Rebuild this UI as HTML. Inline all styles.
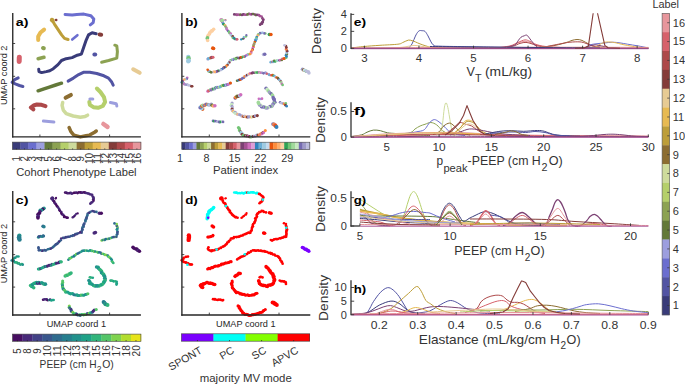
<!DOCTYPE html>
<html><head><meta charset="utf-8"><style>
html,body{margin:0;padding:0;background:#fff;width:685px;height:384px;overflow:hidden}
svg{display:block}
text{font-family:"Liberation Sans",sans-serif}
</style></head><body>
<svg width="685" height="384" viewBox="0 0 685 384">
<path d="M65.10,14.40 L72.20,15.00 L76.80,14.40 L83.90,14.10 L90.90,15.80 L93.80,19.10 L93.20,22.60 L90.30,24.90" fill="none" stroke="#6b6ecf" stroke-width="3.0" stroke-linecap="round" stroke-linejoin="round"/>
<path d="M52.20,20.20 L54.60,24.30 L58.10,29.60 L61.60,34.90 L64.50,38.40 L68.10,39.50" fill="none" stroke="#bd9e39" stroke-width="3.0" stroke-linecap="round" stroke-linejoin="round"/>
<path d="M44.10,29.60 L40.50,32.50 L38.20,36.60 L38.20,40.10" fill="none" stroke="#e7ba52" stroke-width="4.0" stroke-linecap="round" stroke-linejoin="round"/>
<path d="M72.20,39.50 L77.40,35.20" fill="none" stroke="#6b6ecf" stroke-width="2.6" stroke-linecap="round" stroke-linejoin="round"/>
<path d="M96.20,33.70 L92.10,32.80 L88.50,34.90 L86.20,40.10 L83.80,47.00 L81.40,54.10 L77.30,55.20 L72.10,57.60 L66.20,58.70 L61.50,60.50 L58.00,64.60 L53.30,68.70 L49.80,70.70 L46.30,71.60 L41.60,72.60 L39.00,71.60 L38.70,69.30" fill="none" stroke="#393b79" stroke-width="3.0" stroke-linecap="round" stroke-linejoin="round"/>
<path d="M99.60,34.60 L101.20,34.80" fill="none" stroke="#843c39" stroke-width="4.0" stroke-linecap="round" stroke-linejoin="round"/>
<path d="M43.00,48.00 L43.80,48.20" fill="none" stroke="#8ca252" stroke-width="4.0" stroke-linecap="round" stroke-linejoin="round"/>
<path d="M38.10,58.70 L44.00,57.30" fill="none" stroke="#8ca252" stroke-width="3.5" stroke-linecap="round" stroke-linejoin="round"/>
<path d="M19.30,57.20 L19.20,61.40" fill="none" stroke="#d6616b" stroke-width="5.0" stroke-linecap="round" stroke-linejoin="round"/>
<path d="M18.20,77.90 L14.70,79.70 L12.10,82.30 L15.30,83.80 L19.40,85.50 L22.90,86.50" fill="none" stroke="#5254a3" stroke-width="3.0" stroke-linecap="round" stroke-linejoin="round"/>
<path d="M68.10,81.10 L73.40,78.10 L78.70,74.60 L83.40,72.30 L89.80,72.30 L96.80,73.50 L103.90,75.80 L108.50,78.10 L111.50,81.70 L113.20,85.20" fill="none" stroke="#5254a3" stroke-width="3.0" stroke-linecap="round" stroke-linejoin="round"/>
<path d="M94.40,54.60 L95.20,54.60" fill="none" stroke="#5254a3" stroke-width="4.0" stroke-linecap="round" stroke-linejoin="round"/>
<path d="M101.60,62.20 L108.60,60.50 L116.80,58.10 L117.40,51.70 L116.80,45.90 L114.80,45.20" fill="none" stroke="#8ca252" stroke-width="3.0" stroke-linecap="round" stroke-linejoin="round"/>
<path d="M133.20,69.30 L139.70,72.80" fill="none" stroke="#e7cb94" stroke-width="4.0" stroke-linecap="round" stroke-linejoin="round"/>
<path d="M38.10,90.80 L44.00,88.80 L48.60,87.30 L55.70,85.00 L61.50,83.20" fill="none" stroke="#637939" stroke-width="3.5" stroke-linecap="round" stroke-linejoin="round"/>
<path d="M33.40,109.40 L30.80,107.50 L33.50,105.50 L36.90,104.50 L41.50,104.80 L45.50,106.20" fill="none" stroke="#ad494a" stroke-width="4.0" stroke-linecap="round" stroke-linejoin="round"/>
<path d="M65.60,97.80 L70.90,94.90" fill="none" stroke="#8c6d31" stroke-width="4.0" stroke-linecap="round" stroke-linejoin="round"/>
<path d="M62.70,102.50 L62.10,105.40 L63.30,110.10 L66.20,113.60 L73.20,116.00 L80.30,117.20 L85.20,116.40 L87.60,115.20" fill="none" stroke="#cedb9c" stroke-width="3.5" stroke-linecap="round" stroke-linejoin="round"/>
<path d="M96.90,88.50 L100.40,92.00 L104.00,97.20 L105.10,101.90 L102.80,106.00 L98.10,107.80 L93.40,107.20 L89.90,104.90 L89.30,101.90" fill="none" stroke="#b5cf6b" stroke-width="4.0" stroke-linecap="round" stroke-linejoin="round"/>
<path d="M89.90,99.00 L92.80,99.00" fill="none" stroke="#9c9ede" stroke-width="3.0" stroke-linecap="round" stroke-linejoin="round"/>
<path d="M110.40,102.50 L116.30,103.70 L116.80,106.00" fill="none" stroke="#9c9ede" stroke-width="3.0" stroke-linecap="round" stroke-linejoin="round"/>
<path d="M43.40,121.10 L53.90,122.00" fill="none" stroke="#9c9ede" stroke-width="3.0" stroke-linecap="round" stroke-linejoin="round"/>
<path d="M69.10,127.50 L70.90,131.60 L73.80,135.10 L80.30,136.90 L86.10,135.70 L89.60,135.10 L94.60,132.20 L96.30,131.00" fill="none" stroke="#8c6d31" stroke-width="3.5" stroke-linecap="round" stroke-linejoin="round"/>
<path d="M103.40,124.00 L107.50,126.90" fill="none" stroke="#e7969c" stroke-width="4.5" stroke-linecap="round" stroke-linejoin="round"/>
<path d="M56.00,20.00 L56.30,20.00" fill="none" stroke="#843c39" stroke-width="2.4" stroke-linecap="round" stroke-linejoin="round"/>
<path d="M52.00,20.00 L52.50,20.30" fill="none" stroke="#bd9e39" stroke-width="4.4" stroke-linecap="round" stroke-linejoin="round"/>
<circle cx="234.26" cy="14.44" r="1.32" fill="#7b4173"/>
<circle cx="236.06" cy="14.48" r="1.32" fill="#7b4173"/>
<circle cx="236.96" cy="14.97" r="1.32" fill="#a55194"/>
<circle cx="237.83" cy="14.46" r="1.32" fill="#a55194"/>
<circle cx="239.27" cy="14.84" r="1.32" fill="#a55194"/>
<circle cx="240.54" cy="14.59" r="1.32" fill="#637939"/>
<circle cx="241.93" cy="15.02" r="1.32" fill="#7b4173"/>
<circle cx="242.90" cy="14.46" r="1.32" fill="#7b4173"/>
<circle cx="243.72" cy="14.28" r="1.32" fill="#7b4173"/>
<circle cx="245.03" cy="14.75" r="1.32" fill="#a55194"/>
<circle cx="246.39" cy="14.78" r="1.32" fill="#a55194"/>
<circle cx="247.59" cy="14.42" r="1.32" fill="#637939"/>
<circle cx="248.91" cy="13.94" r="1.32" fill="#637939"/>
<circle cx="249.75" cy="14.03" r="1.32" fill="#a55194"/>
<circle cx="251.18" cy="14.52" r="1.32" fill="#a55194"/>
<circle cx="252.12" cy="14.05" r="1.32" fill="#7b4173"/>
<circle cx="253.33" cy="14.02" r="1.32" fill="#637939"/>
<circle cx="254.83" cy="14.55" r="1.32" fill="#7b4173"/>
<circle cx="255.95" cy="15.11" r="1.32" fill="#637939"/>
<circle cx="256.98" cy="14.79" r="1.32" fill="#7b4173"/>
<circle cx="258.16" cy="14.97" r="1.32" fill="#7b4173"/>
<circle cx="258.94" cy="15.12" r="1.32" fill="#a55194"/>
<circle cx="259.93" cy="16.07" r="1.32" fill="#a55194"/>
<circle cx="261.62" cy="16.47" r="1.32" fill="#a55194"/>
<circle cx="262.48" cy="18.34" r="1.32" fill="#7b4173"/>
<circle cx="263.29" cy="19.34" r="1.32" fill="#a55194"/>
<circle cx="263.20" cy="20.11" r="1.32" fill="#7b4173"/>
<circle cx="262.80" cy="21.88" r="1.32" fill="#7b4173"/>
<circle cx="262.16" cy="22.25" r="1.32" fill="#7b4173"/>
<circle cx="262.04" cy="23.79" r="1.32" fill="#7b4173"/>
<circle cx="260.77" cy="23.82" r="1.32" fill="#7b4173"/>
<circle cx="260.13" cy="24.76" r="1.32" fill="#7b4173"/>
<circle cx="222.01" cy="20.56" r="1.32" fill="#843c39"/>
<circle cx="222.09" cy="21.56" r="1.32" fill="#843c39"/>
<circle cx="222.93" cy="22.34" r="1.32" fill="#9c9ede"/>
<circle cx="223.04" cy="23.70" r="1.32" fill="#3182bd"/>
<circle cx="223.79" cy="24.42" r="1.32" fill="#31a354"/>
<circle cx="225.09" cy="25.30" r="1.32" fill="#fdae6b"/>
<circle cx="225.42" cy="26.46" r="1.32" fill="#74c476"/>
<circle cx="226.36" cy="27.92" r="1.32" fill="#d6616b"/>
<circle cx="226.37" cy="28.64" r="1.32" fill="#9e9ac8"/>
<circle cx="227.10" cy="29.71" r="1.32" fill="#ce6dbd"/>
<circle cx="228.07" cy="31.04" r="1.32" fill="#756bb1"/>
<circle cx="229.09" cy="31.93" r="1.32" fill="#74c476"/>
<circle cx="229.68" cy="33.19" r="1.32" fill="#74c476"/>
<circle cx="230.72" cy="33.62" r="1.32" fill="#ce6dbd"/>
<circle cx="230.82" cy="34.99" r="1.32" fill="#bcbddc"/>
<circle cx="231.60" cy="35.61" r="1.32" fill="#9ecae1"/>
<circle cx="232.76" cy="36.44" r="1.32" fill="#843c39"/>
<circle cx="232.82" cy="37.81" r="1.32" fill="#74c476"/>
<circle cx="234.07" cy="38.07" r="1.32" fill="#3182bd"/>
<circle cx="234.85" cy="39.04" r="1.32" fill="#31a354"/>
<circle cx="236.15" cy="39.29" r="1.32" fill="#756bb1"/>
<circle cx="237.14" cy="39.34" r="1.32" fill="#d6616b"/>
<circle cx="213.66" cy="29.35" r="1.76" fill="#fdd0a2"/>
<circle cx="212.22" cy="30.54" r="1.76" fill="#fdd0a2"/>
<circle cx="212.05" cy="31.01" r="1.76" fill="#fdd0a2"/>
<circle cx="211.06" cy="31.36" r="1.76" fill="#fdd0a2"/>
<circle cx="209.73" cy="32.80" r="1.76" fill="#fdd0a2"/>
<circle cx="209.65" cy="33.38" r="1.76" fill="#fdd0a2"/>
<circle cx="209.03" cy="34.41" r="1.76" fill="#fdd0a2"/>
<circle cx="208.10" cy="35.59" r="1.76" fill="#fdd0a2"/>
<circle cx="207.57" cy="36.72" r="1.76" fill="#fdd0a2"/>
<circle cx="207.53" cy="37.69" r="1.76" fill="#74c476"/>
<circle cx="207.29" cy="38.49" r="1.76" fill="#74c476"/>
<circle cx="207.65" cy="40.54" r="1.76" fill="#fdd0a2"/>
<circle cx="241.18" cy="39.46" r="1.14" fill="#3182bd"/>
<circle cx="242.88" cy="38.82" r="1.14" fill="#31a354"/>
<circle cx="243.66" cy="38.39" r="1.14" fill="#7b4173"/>
<circle cx="243.86" cy="37.12" r="1.14" fill="#6baed6"/>
<circle cx="245.43" cy="36.81" r="1.14" fill="#a1d99b"/>
<circle cx="246.29" cy="36.28" r="1.14" fill="#74c476"/>
<circle cx="246.39" cy="35.18" r="1.14" fill="#756bb1"/>
<circle cx="265.30" cy="33.52" r="1.32" fill="#74c476"/>
<circle cx="264.26" cy="33.32" r="1.32" fill="#756bb1"/>
<circle cx="262.52" cy="32.76" r="1.32" fill="#9c9ede"/>
<circle cx="261.48" cy="33.05" r="1.32" fill="#9ecae1"/>
<circle cx="260.05" cy="33.16" r="1.32" fill="#756bb1"/>
<circle cx="258.80" cy="34.46" r="1.32" fill="#9e9ac8"/>
<circle cx="258.19" cy="34.46" r="1.32" fill="#74c476"/>
<circle cx="257.77" cy="35.53" r="1.32" fill="#fdae6b"/>
<circle cx="256.75" cy="37.09" r="1.32" fill="#3182bd"/>
<circle cx="256.45" cy="38.00" r="1.32" fill="#74c476"/>
<circle cx="256.38" cy="39.31" r="1.32" fill="#6baed6"/>
<circle cx="255.26" cy="39.71" r="1.32" fill="#6baed6"/>
<circle cx="255.52" cy="40.88" r="1.32" fill="#3182bd"/>
<circle cx="254.79" cy="42.09" r="1.32" fill="#e6550d"/>
<circle cx="254.27" cy="43.68" r="1.32" fill="#74c476"/>
<circle cx="253.82" cy="44.49" r="1.32" fill="#d6616b"/>
<circle cx="253.54" cy="45.51" r="1.32" fill="#74c476"/>
<circle cx="253.39" cy="46.89" r="1.32" fill="#e6550d"/>
<circle cx="252.86" cy="47.77" r="1.32" fill="#ce6dbd"/>
<circle cx="252.49" cy="49.62" r="1.32" fill="#843c39"/>
<circle cx="252.12" cy="50.14" r="1.32" fill="#fd8d3c"/>
<circle cx="251.20" cy="51.85" r="1.32" fill="#d6616b"/>
<circle cx="251.13" cy="53.09" r="1.32" fill="#ce6dbd"/>
<circle cx="250.37" cy="53.85" r="1.32" fill="#fdae6b"/>
<circle cx="249.61" cy="54.08" r="1.32" fill="#fd8d3c"/>
<circle cx="247.82" cy="54.50" r="1.32" fill="#74c476"/>
<circle cx="247.09" cy="55.09" r="1.32" fill="#9c9ede"/>
<circle cx="245.92" cy="55.47" r="1.32" fill="#ce6dbd"/>
<circle cx="244.79" cy="56.56" r="1.32" fill="#3182bd"/>
<circle cx="243.84" cy="56.79" r="1.32" fill="#d6616b"/>
<circle cx="242.60" cy="56.76" r="1.32" fill="#74c476"/>
<circle cx="241.69" cy="57.58" r="1.32" fill="#31a354"/>
<circle cx="240.57" cy="57.41" r="1.32" fill="#e6550d"/>
<circle cx="239.20" cy="58.18" r="1.32" fill="#843c39"/>
<circle cx="237.67" cy="57.83" r="1.32" fill="#756bb1"/>
<circle cx="236.35" cy="58.13" r="1.32" fill="#637939"/>
<circle cx="235.90" cy="59.11" r="1.32" fill="#74c476"/>
<circle cx="234.24" cy="58.78" r="1.32" fill="#74c476"/>
<circle cx="233.26" cy="59.79" r="1.32" fill="#756bb1"/>
<circle cx="232.12" cy="59.69" r="1.32" fill="#9c9ede"/>
<circle cx="230.51" cy="60.34" r="1.32" fill="#74c476"/>
<circle cx="229.74" cy="61.14" r="1.32" fill="#bcbddc"/>
<circle cx="229.28" cy="62.51" r="1.32" fill="#843c39"/>
<circle cx="228.05" cy="63.66" r="1.32" fill="#9ecae1"/>
<circle cx="227.45" cy="65.02" r="1.32" fill="#843c39"/>
<circle cx="226.46" cy="65.85" r="1.32" fill="#fd8d3c"/>
<circle cx="225.83" cy="66.66" r="1.32" fill="#fd8d3c"/>
<circle cx="224.75" cy="67.29" r="1.32" fill="#3182bd"/>
<circle cx="223.81" cy="67.57" r="1.32" fill="#843c39"/>
<circle cx="223.06" cy="68.38" r="1.32" fill="#756bb1"/>
<circle cx="221.53" cy="69.35" r="1.32" fill="#3182bd"/>
<circle cx="220.77" cy="70.11" r="1.32" fill="#bcbddc"/>
<circle cx="218.87" cy="70.93" r="1.32" fill="#9e9ac8"/>
<circle cx="218.11" cy="70.83" r="1.32" fill="#31a354"/>
<circle cx="217.18" cy="71.33" r="1.32" fill="#7b4173"/>
<circle cx="215.85" cy="71.92" r="1.32" fill="#756bb1"/>
<circle cx="214.84" cy="71.93" r="1.32" fill="#fdae6b"/>
<circle cx="213.70" cy="71.93" r="1.32" fill="#fdae6b"/>
<circle cx="212.16" cy="72.24" r="1.32" fill="#bcbddc"/>
<circle cx="211.06" cy="72.36" r="1.32" fill="#637939"/>
<circle cx="209.95" cy="71.78" r="1.32" fill="#637939"/>
<circle cx="208.58" cy="71.34" r="1.32" fill="#74c476"/>
<circle cx="208.55" cy="70.74" r="1.32" fill="#9c9ede"/>
<circle cx="207.67" cy="69.74" r="1.32" fill="#e6550d"/>
<circle cx="269.32" cy="34.51" r="1.76" fill="#31a354"/>
<circle cx="270.94" cy="34.39" r="1.76" fill="#e6550d"/>
<circle cx="212.75" cy="48.13" r="1.76" fill="#e6550d"/>
<circle cx="213.61" cy="48.52" r="1.76" fill="#e6550d"/>
<circle cx="207.85" cy="58.95" r="1.54" fill="#9e9ac8"/>
<circle cx="208.40" cy="58.60" r="1.54" fill="#6baed6"/>
<circle cx="210.22" cy="57.92" r="1.54" fill="#6baed6"/>
<circle cx="210.87" cy="57.79" r="1.54" fill="#e6550d"/>
<circle cx="211.88" cy="57.37" r="1.54" fill="#7b4173"/>
<circle cx="212.98" cy="57.26" r="1.54" fill="#d6616b"/>
<circle cx="188.26" cy="57.05" r="2.20" fill="#9ecae1"/>
<circle cx="188.56" cy="58.22" r="2.20" fill="#74c476"/>
<circle cx="188.71" cy="60.41" r="2.20" fill="#9ecae1"/>
<circle cx="188.26" cy="61.24" r="2.20" fill="#9ecae1"/>
<circle cx="187.22" cy="77.84" r="1.32" fill="#ce6dbd"/>
<circle cx="186.78" cy="78.87" r="1.32" fill="#756bb1"/>
<circle cx="185.29" cy="79.28" r="1.32" fill="#9ecae1"/>
<circle cx="184.33" cy="79.52" r="1.32" fill="#fdae6b"/>
<circle cx="182.88" cy="80.97" r="1.32" fill="#d6616b"/>
<circle cx="182.52" cy="81.47" r="1.32" fill="#756bb1"/>
<circle cx="181.65" cy="82.31" r="1.32" fill="#6baed6"/>
<circle cx="182.76" cy="82.96" r="1.32" fill="#74c476"/>
<circle cx="183.85" cy="83.43" r="1.32" fill="#9e9ac8"/>
<circle cx="184.41" cy="84.15" r="1.32" fill="#ce6dbd"/>
<circle cx="185.39" cy="84.61" r="1.32" fill="#9e9ac8"/>
<circle cx="187.13" cy="84.78" r="1.32" fill="#756bb1"/>
<circle cx="187.70" cy="84.90" r="1.32" fill="#bcbddc"/>
<circle cx="188.76" cy="85.33" r="1.32" fill="#bcbddc"/>
<circle cx="190.15" cy="85.48" r="1.32" fill="#bcbddc"/>
<circle cx="191.36" cy="86.21" r="1.32" fill="#843c39"/>
<circle cx="192.17" cy="86.29" r="1.32" fill="#843c39"/>
<circle cx="237.10" cy="80.77" r="1.32" fill="#637939"/>
<circle cx="238.56" cy="80.27" r="1.32" fill="#3182bd"/>
<circle cx="239.49" cy="79.75" r="1.32" fill="#843c39"/>
<circle cx="240.63" cy="79.58" r="1.32" fill="#e6550d"/>
<circle cx="241.61" cy="79.01" r="1.32" fill="#756bb1"/>
<circle cx="242.49" cy="78.18" r="1.32" fill="#756bb1"/>
<circle cx="243.92" cy="77.77" r="1.32" fill="#756bb1"/>
<circle cx="244.64" cy="76.42" r="1.32" fill="#fd8d3c"/>
<circle cx="246.13" cy="75.90" r="1.32" fill="#9e9ac8"/>
<circle cx="247.12" cy="74.98" r="1.32" fill="#843c39"/>
<circle cx="248.37" cy="74.64" r="1.32" fill="#bcbddc"/>
<circle cx="249.34" cy="73.76" r="1.32" fill="#fdae6b"/>
<circle cx="250.33" cy="73.26" r="1.32" fill="#ce6dbd"/>
<circle cx="251.98" cy="73.28" r="1.32" fill="#843c39"/>
<circle cx="252.63" cy="72.67" r="1.32" fill="#7b4173"/>
<circle cx="254.20" cy="72.73" r="1.32" fill="#7b4173"/>
<circle cx="255.72" cy="72.45" r="1.32" fill="#74c476"/>
<circle cx="256.73" cy="72.50" r="1.32" fill="#74c476"/>
<circle cx="257.57" cy="72.53" r="1.32" fill="#31a354"/>
<circle cx="259.19" cy="72.32" r="1.32" fill="#ce6dbd"/>
<circle cx="260.10" cy="72.75" r="1.32" fill="#a1d99b"/>
<circle cx="261.12" cy="72.70" r="1.32" fill="#ce6dbd"/>
<circle cx="262.35" cy="72.70" r="1.32" fill="#9e9ac8"/>
<circle cx="263.54" cy="73.36" r="1.32" fill="#756bb1"/>
<circle cx="265.41" cy="72.87" r="1.32" fill="#756bb1"/>
<circle cx="265.96" cy="73.12" r="1.32" fill="#9c9ede"/>
<circle cx="266.95" cy="73.74" r="1.32" fill="#d6616b"/>
<circle cx="268.90" cy="74.44" r="1.32" fill="#9e9ac8"/>
<circle cx="269.37" cy="74.96" r="1.32" fill="#6baed6"/>
<circle cx="271.13" cy="75.25" r="1.32" fill="#d6616b"/>
<circle cx="272.56" cy="75.15" r="1.32" fill="#e6550d"/>
<circle cx="273.63" cy="75.74" r="1.32" fill="#31a354"/>
<circle cx="274.44" cy="76.02" r="1.32" fill="#6baed6"/>
<circle cx="275.52" cy="77.26" r="1.32" fill="#bcbddc"/>
<circle cx="276.65" cy="77.50" r="1.32" fill="#e6550d"/>
<circle cx="277.93" cy="78.03" r="1.32" fill="#637939"/>
<circle cx="278.47" cy="78.97" r="1.32" fill="#843c39"/>
<circle cx="279.34" cy="79.86" r="1.32" fill="#6baed6"/>
<circle cx="280.35" cy="80.68" r="1.32" fill="#9ecae1"/>
<circle cx="280.85" cy="81.58" r="1.32" fill="#843c39"/>
<circle cx="281.22" cy="82.42" r="1.32" fill="#a1d99b"/>
<circle cx="281.82" cy="83.92" r="1.32" fill="#ce6dbd"/>
<circle cx="282.63" cy="84.89" r="1.32" fill="#74c476"/>
<circle cx="263.50" cy="54.51" r="1.76" fill="#bcbddc"/>
<circle cx="264.72" cy="54.28" r="1.76" fill="#756bb1"/>
<circle cx="270.70" cy="62.19" r="1.32" fill="#6baed6"/>
<circle cx="272.47" cy="61.83" r="1.32" fill="#d6616b"/>
<circle cx="273.25" cy="61.82" r="1.32" fill="#6baed6"/>
<circle cx="274.27" cy="60.94" r="1.32" fill="#637939"/>
<circle cx="275.24" cy="61.49" r="1.32" fill="#31a354"/>
<circle cx="276.60" cy="60.68" r="1.32" fill="#a1d99b"/>
<circle cx="277.70" cy="60.61" r="1.32" fill="#9ecae1"/>
<circle cx="279.54" cy="60.24" r="1.32" fill="#7b4173"/>
<circle cx="280.14" cy="60.07" r="1.32" fill="#ce6dbd"/>
<circle cx="281.77" cy="59.89" r="1.32" fill="#637939"/>
<circle cx="282.46" cy="58.92" r="1.32" fill="#d6616b"/>
<circle cx="283.97" cy="58.65" r="1.32" fill="#e6550d"/>
<circle cx="284.63" cy="58.38" r="1.32" fill="#e6550d"/>
<circle cx="286.28" cy="57.65" r="1.32" fill="#74c476"/>
<circle cx="286.48" cy="56.39" r="1.32" fill="#3182bd"/>
<circle cx="286.02" cy="55.14" r="1.32" fill="#3182bd"/>
<circle cx="286.92" cy="53.99" r="1.32" fill="#637939"/>
<circle cx="286.54" cy="52.96" r="1.32" fill="#9ecae1"/>
<circle cx="287.20" cy="51.28" r="1.32" fill="#7b4173"/>
<circle cx="286.91" cy="50.66" r="1.32" fill="#843c39"/>
<circle cx="286.19" cy="49.19" r="1.32" fill="#fd8d3c"/>
<circle cx="286.09" cy="48.12" r="1.32" fill="#d6616b"/>
<circle cx="286.35" cy="47.31" r="1.32" fill="#843c39"/>
<circle cx="285.91" cy="46.12" r="1.32" fill="#843c39"/>
<circle cx="284.50" cy="45.25" r="1.32" fill="#bcbddc"/>
<circle cx="302.48" cy="69.22" r="1.76" fill="#9e9ac8"/>
<circle cx="303.63" cy="70.07" r="1.76" fill="#8c6d31"/>
<circle cx="304.56" cy="70.17" r="1.76" fill="#c6dbef"/>
<circle cx="306.22" cy="71.23" r="1.76" fill="#74c476"/>
<circle cx="306.52" cy="71.34" r="1.76" fill="#bcbddc"/>
<circle cx="308.31" cy="71.85" r="1.76" fill="#bcbddc"/>
<circle cx="308.94" cy="72.89" r="1.76" fill="#bcbddc"/>
<circle cx="207.84" cy="91.14" r="1.54" fill="#ce6dbd"/>
<circle cx="208.65" cy="90.73" r="1.54" fill="#d6616b"/>
<circle cx="210.31" cy="89.55" r="1.54" fill="#a1d99b"/>
<circle cx="210.95" cy="90.01" r="1.54" fill="#756bb1"/>
<circle cx="212.07" cy="89.03" r="1.54" fill="#ce6dbd"/>
<circle cx="213.02" cy="88.93" r="1.54" fill="#31a354"/>
<circle cx="214.72" cy="88.85" r="1.54" fill="#9e9ac8"/>
<circle cx="215.78" cy="87.61" r="1.54" fill="#31a354"/>
<circle cx="216.66" cy="87.41" r="1.54" fill="#9c9ede"/>
<circle cx="218.01" cy="87.30" r="1.54" fill="#756bb1"/>
<circle cx="219.02" cy="87.26" r="1.54" fill="#a1d99b"/>
<circle cx="220.34" cy="86.64" r="1.54" fill="#6baed6"/>
<circle cx="221.84" cy="85.80" r="1.54" fill="#74c476"/>
<circle cx="223.06" cy="85.41" r="1.54" fill="#fdae6b"/>
<circle cx="223.54" cy="85.35" r="1.54" fill="#31a354"/>
<circle cx="225.39" cy="85.16" r="1.54" fill="#756bb1"/>
<circle cx="226.39" cy="84.88" r="1.54" fill="#9ecae1"/>
<circle cx="227.33" cy="84.42" r="1.54" fill="#756bb1"/>
<circle cx="228.39" cy="84.32" r="1.54" fill="#ce6dbd"/>
<circle cx="230.02" cy="83.30" r="1.54" fill="#9c9ede"/>
<circle cx="230.46" cy="83.02" r="1.54" fill="#e6550d"/>
<circle cx="202.66" cy="109.12" r="1.76" fill="#e6550d"/>
<circle cx="201.88" cy="108.62" r="1.76" fill="#9ecae1"/>
<circle cx="200.13" cy="107.63" r="1.76" fill="#756bb1"/>
<circle cx="201.12" cy="106.61" r="1.76" fill="#6baed6"/>
<circle cx="201.85" cy="106.10" r="1.76" fill="#e6550d"/>
<circle cx="202.68" cy="105.34" r="1.76" fill="#a1d99b"/>
<circle cx="204.24" cy="105.50" r="1.76" fill="#756bb1"/>
<circle cx="205.13" cy="105.02" r="1.76" fill="#fd8d3c"/>
<circle cx="206.18" cy="104.22" r="1.76" fill="#756bb1"/>
<circle cx="207.85" cy="104.56" r="1.76" fill="#fd8d3c"/>
<circle cx="208.57" cy="104.73" r="1.76" fill="#6baed6"/>
<circle cx="209.56" cy="105.12" r="1.76" fill="#bcbddc"/>
<circle cx="211.25" cy="104.38" r="1.76" fill="#9e9ac8"/>
<circle cx="212.05" cy="105.28" r="1.76" fill="#637939"/>
<circle cx="213.15" cy="105.95" r="1.76" fill="#fdae6b"/>
<circle cx="214.89" cy="105.78" r="1.76" fill="#ce6dbd"/>
<circle cx="235.22" cy="98.02" r="1.76" fill="#7b4173"/>
<circle cx="235.74" cy="97.17" r="1.76" fill="#fd8d3c"/>
<circle cx="237.07" cy="96.38" r="1.76" fill="#637939"/>
<circle cx="238.42" cy="96.24" r="1.76" fill="#843c39"/>
<circle cx="239.67" cy="95.82" r="1.76" fill="#9ecae1"/>
<circle cx="240.70" cy="94.84" r="1.76" fill="#ce6dbd"/>
<circle cx="232.08" cy="102.95" r="1.54" fill="#9e9ac8"/>
<circle cx="231.67" cy="104.27" r="1.54" fill="#c7e9c0"/>
<circle cx="231.08" cy="105.29" r="1.54" fill="#c7e9c0"/>
<circle cx="232.08" cy="106.39" r="1.54" fill="#9e9ac8"/>
<circle cx="232.49" cy="107.77" r="1.54" fill="#bcbddc"/>
<circle cx="232.07" cy="108.95" r="1.54" fill="#843c39"/>
<circle cx="232.27" cy="110.51" r="1.54" fill="#bcbddc"/>
<circle cx="233.16" cy="111.22" r="1.54" fill="#fdae6b"/>
<circle cx="234.02" cy="112.27" r="1.54" fill="#c7e9c0"/>
<circle cx="235.31" cy="112.31" r="1.54" fill="#9e9ac8"/>
<circle cx="235.36" cy="113.40" r="1.54" fill="#c7e9c0"/>
<circle cx="237.07" cy="114.09" r="1.54" fill="#bcbddc"/>
<circle cx="237.89" cy="114.19" r="1.54" fill="#fdae6b"/>
<circle cx="239.03" cy="114.58" r="1.54" fill="#bcbddc"/>
<circle cx="239.84" cy="114.78" r="1.54" fill="#9e9ac8"/>
<circle cx="241.80" cy="115.88" r="1.54" fill="#9e9ac8"/>
<circle cx="243.01" cy="116.22" r="1.54" fill="#fdae6b"/>
<circle cx="243.79" cy="116.50" r="1.54" fill="#843c39"/>
<circle cx="244.64" cy="115.96" r="1.54" fill="#bcbddc"/>
<circle cx="245.72" cy="116.73" r="1.54" fill="#fdae6b"/>
<circle cx="247.30" cy="116.95" r="1.54" fill="#843c39"/>
<circle cx="248.53" cy="116.88" r="1.54" fill="#9e9ac8"/>
<circle cx="249.51" cy="116.82" r="1.54" fill="#9e9ac8"/>
<circle cx="251.37" cy="117.04" r="1.54" fill="#fdae6b"/>
<circle cx="252.40" cy="116.75" r="1.54" fill="#c7e9c0"/>
<circle cx="253.65" cy="116.56" r="1.54" fill="#843c39"/>
<circle cx="254.29" cy="116.23" r="1.54" fill="#843c39"/>
<circle cx="255.38" cy="115.79" r="1.54" fill="#9e9ac8"/>
<circle cx="257.29" cy="115.59" r="1.54" fill="#843c39"/>
<circle cx="266.10" cy="88.33" r="1.76" fill="#756bb1"/>
<circle cx="267.16" cy="89.18" r="1.76" fill="#c7e9c0"/>
<circle cx="267.69" cy="90.40" r="1.76" fill="#c7e9c0"/>
<circle cx="268.51" cy="91.11" r="1.76" fill="#a1d99b"/>
<circle cx="269.53" cy="92.38" r="1.76" fill="#9e9ac8"/>
<circle cx="270.66" cy="93.44" r="1.76" fill="#a1d99b"/>
<circle cx="271.07" cy="93.87" r="1.76" fill="#756bb1"/>
<circle cx="272.36" cy="94.96" r="1.76" fill="#a1d99b"/>
<circle cx="272.73" cy="95.74" r="1.76" fill="#a1d99b"/>
<circle cx="273.18" cy="97.63" r="1.76" fill="#756bb1"/>
<circle cx="273.67" cy="98.79" r="1.76" fill="#756bb1"/>
<circle cx="274.13" cy="99.20" r="1.76" fill="#756bb1"/>
<circle cx="274.34" cy="101.01" r="1.76" fill="#756bb1"/>
<circle cx="274.90" cy="102.33" r="1.76" fill="#756bb1"/>
<circle cx="273.86" cy="103.36" r="1.76" fill="#a1d99b"/>
<circle cx="273.14" cy="103.99" r="1.76" fill="#756bb1"/>
<circle cx="272.48" cy="104.96" r="1.76" fill="#9e9ac8"/>
<circle cx="271.88" cy="106.36" r="1.76" fill="#9e9ac8"/>
<circle cx="271.20" cy="106.42" r="1.76" fill="#a1d99b"/>
<circle cx="269.98" cy="106.58" r="1.76" fill="#756bb1"/>
<circle cx="268.39" cy="107.46" r="1.76" fill="#c7e9c0"/>
<circle cx="267.22" cy="108.09" r="1.76" fill="#9e9ac8"/>
<circle cx="265.92" cy="108.06" r="1.76" fill="#9e9ac8"/>
<circle cx="265.04" cy="107.15" r="1.76" fill="#a1d99b"/>
<circle cx="263.69" cy="106.92" r="1.76" fill="#756bb1"/>
<circle cx="262.47" cy="106.88" r="1.76" fill="#9e9ac8"/>
<circle cx="261.53" cy="106.83" r="1.76" fill="#756bb1"/>
<circle cx="260.86" cy="105.22" r="1.76" fill="#c7e9c0"/>
<circle cx="259.75" cy="105.33" r="1.76" fill="#9e9ac8"/>
<circle cx="258.61" cy="103.44" r="1.76" fill="#a1d99b"/>
<circle cx="258.34" cy="102.21" r="1.76" fill="#a1d99b"/>
<circle cx="258.87" cy="98.86" r="1.32" fill="#ce6dbd"/>
<circle cx="260.81" cy="98.97" r="1.32" fill="#9c9ede"/>
<circle cx="262.02" cy="98.68" r="1.32" fill="#ce6dbd"/>
<circle cx="280.10" cy="102.23" r="1.32" fill="#756bb1"/>
<circle cx="280.80" cy="102.96" r="1.32" fill="#bcbddc"/>
<circle cx="281.98" cy="103.30" r="1.32" fill="#bcbddc"/>
<circle cx="283.18" cy="103.53" r="1.32" fill="#9e9ac8"/>
<circle cx="284.12" cy="103.89" r="1.32" fill="#fd8d3c"/>
<circle cx="285.80" cy="103.41" r="1.32" fill="#74c476"/>
<circle cx="285.51" cy="105.18" r="1.32" fill="#843c39"/>
<circle cx="286.64" cy="106.17" r="1.32" fill="#3182bd"/>
<circle cx="212.98" cy="120.90" r="1.32" fill="#756bb1"/>
<circle cx="214.00" cy="121.15" r="1.32" fill="#31a354"/>
<circle cx="215.21" cy="121.05" r="1.32" fill="#756bb1"/>
<circle cx="216.31" cy="121.29" r="1.32" fill="#756bb1"/>
<circle cx="217.55" cy="121.68" r="1.32" fill="#bcbddc"/>
<circle cx="219.03" cy="121.93" r="1.32" fill="#756bb1"/>
<circle cx="219.61" cy="122.13" r="1.32" fill="#756bb1"/>
<circle cx="220.68" cy="121.89" r="1.32" fill="#31a354"/>
<circle cx="222.34" cy="121.76" r="1.32" fill="#bcbddc"/>
<circle cx="223.07" cy="121.94" r="1.32" fill="#756bb1"/>
<circle cx="238.46" cy="127.48" r="1.54" fill="#74c476"/>
<circle cx="239.21" cy="128.23" r="1.54" fill="#74c476"/>
<circle cx="239.43" cy="129.50" r="1.54" fill="#74c476"/>
<circle cx="239.45" cy="130.50" r="1.54" fill="#74c476"/>
<circle cx="240.61" cy="131.85" r="1.54" fill="#843c39"/>
<circle cx="240.79" cy="132.37" r="1.54" fill="#9ecae1"/>
<circle cx="242.18" cy="133.23" r="1.54" fill="#9ecae1"/>
<circle cx="242.07" cy="134.22" r="1.54" fill="#843c39"/>
<circle cx="243.14" cy="135.43" r="1.54" fill="#74c476"/>
<circle cx="244.16" cy="135.22" r="1.54" fill="#74c476"/>
<circle cx="245.25" cy="135.65" r="1.54" fill="#843c39"/>
<circle cx="246.53" cy="135.68" r="1.54" fill="#9ecae1"/>
<circle cx="247.08" cy="135.91" r="1.54" fill="#843c39"/>
<circle cx="248.29" cy="136.22" r="1.54" fill="#ce6dbd"/>
<circle cx="249.64" cy="136.63" r="1.54" fill="#843c39"/>
<circle cx="250.89" cy="137.04" r="1.54" fill="#74c476"/>
<circle cx="251.97" cy="136.30" r="1.54" fill="#9ecae1"/>
<circle cx="253.13" cy="136.34" r="1.54" fill="#843c39"/>
<circle cx="254.35" cy="136.33" r="1.54" fill="#9ecae1"/>
<circle cx="255.48" cy="136.05" r="1.54" fill="#ce6dbd"/>
<circle cx="256.71" cy="135.16" r="1.54" fill="#9ecae1"/>
<circle cx="257.92" cy="134.93" r="1.54" fill="#843c39"/>
<circle cx="259.27" cy="134.99" r="1.54" fill="#fd8d3c"/>
<circle cx="260.30" cy="134.24" r="1.54" fill="#ce6dbd"/>
<circle cx="260.68" cy="133.67" r="1.54" fill="#fd8d3c"/>
<circle cx="262.08" cy="133.76" r="1.54" fill="#ce6dbd"/>
<circle cx="262.94" cy="132.42" r="1.54" fill="#843c39"/>
<circle cx="263.61" cy="132.54" r="1.54" fill="#ce6dbd"/>
<circle cx="265.31" cy="130.56" r="1.54" fill="#fd8d3c"/>
<circle cx="273.17" cy="124.12" r="1.98" fill="#756bb1"/>
<circle cx="274.12" cy="124.57" r="1.98" fill="#fd8d3c"/>
<circle cx="275.19" cy="125.20" r="1.98" fill="#d6616b"/>
<circle cx="275.61" cy="126.08" r="1.98" fill="#e6550d"/>
<circle cx="276.50" cy="126.92" r="1.98" fill="#3182bd"/>
<circle cx="225.42" cy="20.07" r="1.06" fill="#e6550d"/>
<circle cx="225.41" cy="20.29" r="1.06" fill="#9c9ede"/>
<circle cx="221.31" cy="19.86" r="1.94" fill="#ce6dbd"/>
<circle cx="222.05" cy="20.33" r="1.94" fill="#a1d99b"/>
<circle cx="65.17" cy="192.56" r="1.32" fill="#470e61"/>
<circle cx="66.36" cy="192.68" r="1.32" fill="#482979"/>
<circle cx="67.30" cy="193.22" r="1.32" fill="#470e61"/>
<circle cx="68.60" cy="193.20" r="1.32" fill="#482979"/>
<circle cx="69.95" cy="193.09" r="1.32" fill="#470e61"/>
<circle cx="70.73" cy="192.84" r="1.32" fill="#482979"/>
<circle cx="71.86" cy="193.67" r="1.32" fill="#482979"/>
<circle cx="73.66" cy="192.98" r="1.32" fill="#470e61"/>
<circle cx="74.34" cy="192.77" r="1.32" fill="#470e61"/>
<circle cx="75.41" cy="192.73" r="1.32" fill="#470e61"/>
<circle cx="76.51" cy="192.48" r="1.32" fill="#482979"/>
<circle cx="77.58" cy="193.07" r="1.32" fill="#470e61"/>
<circle cx="78.90" cy="192.42" r="1.32" fill="#470e61"/>
<circle cx="80.41" cy="192.32" r="1.32" fill="#470e61"/>
<circle cx="81.28" cy="192.65" r="1.32" fill="#470e61"/>
<circle cx="82.42" cy="192.68" r="1.32" fill="#482979"/>
<circle cx="83.99" cy="192.33" r="1.32" fill="#470e61"/>
<circle cx="85.18" cy="192.63" r="1.32" fill="#470e61"/>
<circle cx="85.85" cy="193.00" r="1.32" fill="#482979"/>
<circle cx="87.39" cy="193.32" r="1.32" fill="#482979"/>
<circle cx="88.58" cy="193.46" r="1.32" fill="#482979"/>
<circle cx="89.48" cy="194.10" r="1.32" fill="#482979"/>
<circle cx="90.76" cy="194.55" r="1.32" fill="#482979"/>
<circle cx="92.10" cy="194.85" r="1.32" fill="#482979"/>
<circle cx="92.69" cy="196.51" r="1.32" fill="#482979"/>
<circle cx="93.45" cy="197.43" r="1.32" fill="#482979"/>
<circle cx="93.58" cy="198.60" r="1.32" fill="#482979"/>
<circle cx="93.29" cy="199.32" r="1.32" fill="#482979"/>
<circle cx="93.49" cy="200.63" r="1.32" fill="#470e61"/>
<circle cx="92.42" cy="202.09" r="1.32" fill="#482979"/>
<circle cx="91.34" cy="202.59" r="1.32" fill="#482979"/>
<circle cx="90.34" cy="203.64" r="1.32" fill="#482979"/>
<circle cx="52.58" cy="198.43" r="1.32" fill="#482979"/>
<circle cx="52.73" cy="199.41" r="1.32" fill="#470e61"/>
<circle cx="53.17" cy="200.73" r="1.32" fill="#482979"/>
<circle cx="54.19" cy="201.42" r="1.32" fill="#470e61"/>
<circle cx="54.44" cy="202.80" r="1.32" fill="#470e61"/>
<circle cx="55.34" cy="203.63" r="1.32" fill="#482979"/>
<circle cx="56.05" cy="204.60" r="1.32" fill="#470e61"/>
<circle cx="56.80" cy="205.96" r="1.32" fill="#470e61"/>
<circle cx="57.40" cy="206.54" r="1.32" fill="#470e61"/>
<circle cx="58.15" cy="207.56" r="1.32" fill="#482979"/>
<circle cx="59.13" cy="208.97" r="1.32" fill="#482979"/>
<circle cx="59.30" cy="210.00" r="1.32" fill="#482979"/>
<circle cx="59.96" cy="210.86" r="1.32" fill="#470e61"/>
<circle cx="61.30" cy="212.12" r="1.32" fill="#482979"/>
<circle cx="61.28" cy="213.08" r="1.32" fill="#470e61"/>
<circle cx="62.11" cy="214.33" r="1.32" fill="#470e61"/>
<circle cx="63.20" cy="214.72" r="1.32" fill="#482979"/>
<circle cx="64.04" cy="216.04" r="1.32" fill="#470e61"/>
<circle cx="64.14" cy="216.88" r="1.32" fill="#470e61"/>
<circle cx="65.45" cy="217.03" r="1.32" fill="#470e61"/>
<circle cx="66.74" cy="217.67" r="1.32" fill="#470e61"/>
<circle cx="67.69" cy="217.79" r="1.32" fill="#470e61"/>
<circle cx="43.99" cy="208.23" r="1.76" fill="#21918c"/>
<circle cx="43.20" cy="208.79" r="1.76" fill="#21918c"/>
<circle cx="42.73" cy="209.29" r="1.76" fill="#470e61"/>
<circle cx="41.44" cy="210.15" r="1.76" fill="#21918c"/>
<circle cx="40.19" cy="210.38" r="1.76" fill="#21918c"/>
<circle cx="40.05" cy="211.57" r="1.76" fill="#482979"/>
<circle cx="39.35" cy="213.26" r="1.76" fill="#470e61"/>
<circle cx="38.56" cy="213.99" r="1.76" fill="#470e61"/>
<circle cx="37.93" cy="214.59" r="1.76" fill="#470e61"/>
<circle cx="38.19" cy="216.28" r="1.76" fill="#482979"/>
<circle cx="37.86" cy="217.09" r="1.76" fill="#482979"/>
<circle cx="37.98" cy="218.03" r="1.76" fill="#470e61"/>
<circle cx="72.55" cy="217.47" r="1.14" fill="#470e61"/>
<circle cx="73.24" cy="217.20" r="1.14" fill="#482979"/>
<circle cx="74.12" cy="216.41" r="1.14" fill="#482979"/>
<circle cx="74.59" cy="215.83" r="1.14" fill="#470e61"/>
<circle cx="75.28" cy="215.10" r="1.14" fill="#482979"/>
<circle cx="76.24" cy="213.80" r="1.14" fill="#482979"/>
<circle cx="77.70" cy="213.38" r="1.14" fill="#470e61"/>
<circle cx="96.47" cy="211.90" r="1.32" fill="#2f6b8e"/>
<circle cx="94.78" cy="211.85" r="1.32" fill="#39568c"/>
<circle cx="93.58" cy="211.35" r="1.32" fill="#424186"/>
<circle cx="92.37" cy="210.96" r="1.32" fill="#424186"/>
<circle cx="90.59" cy="211.70" r="1.32" fill="#39568c"/>
<circle cx="89.53" cy="212.57" r="1.32" fill="#2f6b8e"/>
<circle cx="88.65" cy="212.97" r="1.32" fill="#482979"/>
<circle cx="87.61" cy="213.81" r="1.32" fill="#39568c"/>
<circle cx="87.33" cy="215.24" r="1.32" fill="#2f6b8e"/>
<circle cx="86.91" cy="216.56" r="1.32" fill="#2f6b8e"/>
<circle cx="86.55" cy="217.72" r="1.32" fill="#424186"/>
<circle cx="86.22" cy="218.33" r="1.32" fill="#39568c"/>
<circle cx="86.07" cy="219.26" r="1.32" fill="#39568c"/>
<circle cx="85.40" cy="220.34" r="1.32" fill="#2f6b8e"/>
<circle cx="85.39" cy="221.53" r="1.32" fill="#2f6b8e"/>
<circle cx="84.26" cy="223.45" r="1.32" fill="#424186"/>
<circle cx="83.95" cy="224.17" r="1.32" fill="#39568c"/>
<circle cx="83.46" cy="225.30" r="1.32" fill="#39568c"/>
<circle cx="83.67" cy="226.70" r="1.32" fill="#39568c"/>
<circle cx="82.57" cy="227.24" r="1.32" fill="#2f6b8e"/>
<circle cx="82.15" cy="229.04" r="1.32" fill="#39568c"/>
<circle cx="82.57" cy="229.63" r="1.32" fill="#39568c"/>
<circle cx="81.62" cy="231.19" r="1.32" fill="#39568c"/>
<circle cx="81.65" cy="232.67" r="1.32" fill="#39568c"/>
<circle cx="80.15" cy="232.40" r="1.32" fill="#482979"/>
<circle cx="78.32" cy="233.30" r="1.32" fill="#424186"/>
<circle cx="76.93" cy="233.72" r="1.32" fill="#2f6b8e"/>
<circle cx="76.48" cy="234.18" r="1.32" fill="#424186"/>
<circle cx="75.34" cy="234.08" r="1.32" fill="#39568c"/>
<circle cx="74.19" cy="235.36" r="1.32" fill="#482979"/>
<circle cx="73.14" cy="235.30" r="1.32" fill="#39568c"/>
<circle cx="72.48" cy="235.83" r="1.32" fill="#39568c"/>
<circle cx="70.97" cy="236.02" r="1.32" fill="#39568c"/>
<circle cx="69.60" cy="236.73" r="1.32" fill="#39568c"/>
<circle cx="68.39" cy="236.77" r="1.32" fill="#39568c"/>
<circle cx="67.64" cy="237.00" r="1.32" fill="#424186"/>
<circle cx="66.07" cy="237.14" r="1.32" fill="#39568c"/>
<circle cx="65.44" cy="237.43" r="1.32" fill="#424186"/>
<circle cx="64.05" cy="237.99" r="1.32" fill="#424186"/>
<circle cx="63.12" cy="237.94" r="1.32" fill="#39568c"/>
<circle cx="61.27" cy="238.51" r="1.32" fill="#482979"/>
<circle cx="60.76" cy="240.20" r="1.32" fill="#39568c"/>
<circle cx="59.53" cy="241.20" r="1.32" fill="#2f6b8e"/>
<circle cx="58.94" cy="241.76" r="1.32" fill="#482979"/>
<circle cx="57.88" cy="243.18" r="1.32" fill="#39568c"/>
<circle cx="56.94" cy="243.92" r="1.32" fill="#39568c"/>
<circle cx="56.14" cy="244.21" r="1.32" fill="#424186"/>
<circle cx="55.42" cy="244.94" r="1.32" fill="#39568c"/>
<circle cx="54.44" cy="245.82" r="1.32" fill="#39568c"/>
<circle cx="53.28" cy="246.89" r="1.32" fill="#2f6b8e"/>
<circle cx="52.19" cy="247.77" r="1.32" fill="#39568c"/>
<circle cx="50.87" cy="248.46" r="1.32" fill="#424186"/>
<circle cx="50.17" cy="248.72" r="1.32" fill="#482979"/>
<circle cx="49.06" cy="248.97" r="1.32" fill="#2f6b8e"/>
<circle cx="47.83" cy="249.26" r="1.32" fill="#2f6b8e"/>
<circle cx="46.04" cy="250.28" r="1.32" fill="#2f6b8e"/>
<circle cx="45.44" cy="250.52" r="1.32" fill="#39568c"/>
<circle cx="44.39" cy="250.09" r="1.32" fill="#39568c"/>
<circle cx="42.77" cy="250.76" r="1.32" fill="#2f6b8e"/>
<circle cx="41.99" cy="250.68" r="1.32" fill="#482979"/>
<circle cx="40.38" cy="250.26" r="1.32" fill="#2f6b8e"/>
<circle cx="38.90" cy="250.33" r="1.32" fill="#39568c"/>
<circle cx="38.58" cy="248.49" r="1.32" fill="#39568c"/>
<circle cx="38.47" cy="247.35" r="1.32" fill="#39568c"/>
<circle cx="99.36" cy="213.26" r="1.76" fill="#482979"/>
<circle cx="101.25" cy="213.35" r="1.76" fill="#470e61"/>
<circle cx="43.05" cy="226.21" r="1.76" fill="#2f6b8e"/>
<circle cx="43.93" cy="226.78" r="1.76" fill="#277e8e"/>
<circle cx="38.49" cy="237.23" r="1.54" fill="#21918c"/>
<circle cx="38.89" cy="236.50" r="1.54" fill="#39568c"/>
<circle cx="40.27" cy="236.30" r="1.54" fill="#39568c"/>
<circle cx="42.00" cy="236.53" r="1.54" fill="#21918c"/>
<circle cx="43.07" cy="235.84" r="1.54" fill="#2f6b8e"/>
<circle cx="43.60" cy="235.96" r="1.54" fill="#2f6b8e"/>
<circle cx="19.37" cy="235.80" r="2.20" fill="#21918c"/>
<circle cx="19.00" cy="237.28" r="2.20" fill="#277e8e"/>
<circle cx="19.10" cy="237.93" r="2.20" fill="#277e8e"/>
<circle cx="19.56" cy="239.61" r="2.20" fill="#277e8e"/>
<circle cx="18.47" cy="256.45" r="1.32" fill="#1fa287"/>
<circle cx="16.81" cy="256.46" r="1.32" fill="#21918c"/>
<circle cx="15.44" cy="257.73" r="1.32" fill="#31b57b"/>
<circle cx="14.79" cy="257.75" r="1.32" fill="#21918c"/>
<circle cx="13.49" cy="258.70" r="1.32" fill="#21918c"/>
<circle cx="12.88" cy="259.58" r="1.32" fill="#31b57b"/>
<circle cx="11.67" cy="260.55" r="1.32" fill="#277e8e"/>
<circle cx="13.62" cy="260.80" r="1.32" fill="#21918c"/>
<circle cx="13.89" cy="261.30" r="1.32" fill="#277e8e"/>
<circle cx="15.10" cy="262.41" r="1.32" fill="#1fa287"/>
<circle cx="16.64" cy="262.41" r="1.32" fill="#31b57b"/>
<circle cx="17.53" cy="263.16" r="1.32" fill="#31b57b"/>
<circle cx="18.36" cy="263.37" r="1.32" fill="#277e8e"/>
<circle cx="18.96" cy="263.42" r="1.32" fill="#31b57b"/>
<circle cx="20.28" cy="264.57" r="1.32" fill="#21918c"/>
<circle cx="21.88" cy="264.17" r="1.32" fill="#31b57b"/>
<circle cx="22.73" cy="264.68" r="1.32" fill="#21918c"/>
<circle cx="68.41" cy="259.71" r="1.32" fill="#277e8e"/>
<circle cx="69.59" cy="258.40" r="1.32" fill="#31b57b"/>
<circle cx="69.92" cy="258.33" r="1.32" fill="#54c568"/>
<circle cx="71.24" cy="257.82" r="1.32" fill="#7fd34e"/>
<circle cx="71.90" cy="256.96" r="1.32" fill="#31b57b"/>
<circle cx="73.74" cy="256.44" r="1.32" fill="#277e8e"/>
<circle cx="74.11" cy="255.94" r="1.32" fill="#2f6b8e"/>
<circle cx="75.15" cy="255.30" r="1.32" fill="#1fa287"/>
<circle cx="76.20" cy="254.15" r="1.32" fill="#7fd34e"/>
<circle cx="77.38" cy="253.79" r="1.32" fill="#277e8e"/>
<circle cx="78.36" cy="253.25" r="1.32" fill="#2f6b8e"/>
<circle cx="79.62" cy="252.51" r="1.32" fill="#2f6b8e"/>
<circle cx="81.48" cy="251.57" r="1.32" fill="#1fa287"/>
<circle cx="82.40" cy="250.74" r="1.32" fill="#21918c"/>
<circle cx="83.58" cy="250.73" r="1.32" fill="#277e8e"/>
<circle cx="84.43" cy="250.68" r="1.32" fill="#21918c"/>
<circle cx="86.14" cy="250.46" r="1.32" fill="#54c568"/>
<circle cx="87.26" cy="250.75" r="1.32" fill="#21918c"/>
<circle cx="88.63" cy="250.97" r="1.32" fill="#1fa287"/>
<circle cx="90.12" cy="250.40" r="1.32" fill="#21918c"/>
<circle cx="91.20" cy="250.84" r="1.32" fill="#1fa287"/>
<circle cx="92.08" cy="250.90" r="1.32" fill="#54c568"/>
<circle cx="93.67" cy="251.23" r="1.32" fill="#1fa287"/>
<circle cx="94.32" cy="251.64" r="1.32" fill="#7fd34e"/>
<circle cx="95.34" cy="251.49" r="1.32" fill="#21918c"/>
<circle cx="97.19" cy="252.01" r="1.32" fill="#54c568"/>
<circle cx="97.94" cy="252.60" r="1.32" fill="#54c568"/>
<circle cx="99.10" cy="252.31" r="1.32" fill="#277e8e"/>
<circle cx="100.46" cy="252.51" r="1.32" fill="#2f6b8e"/>
<circle cx="101.41" cy="253.74" r="1.32" fill="#2f6b8e"/>
<circle cx="102.84" cy="253.74" r="1.32" fill="#7fd34e"/>
<circle cx="103.99" cy="254.21" r="1.32" fill="#31b57b"/>
<circle cx="105.08" cy="254.89" r="1.32" fill="#7fd34e"/>
<circle cx="106.50" cy="254.97" r="1.32" fill="#7fd34e"/>
<circle cx="107.80" cy="255.45" r="1.32" fill="#2f6b8e"/>
<circle cx="108.12" cy="256.39" r="1.32" fill="#31b57b"/>
<circle cx="109.16" cy="257.00" r="1.32" fill="#7fd34e"/>
<circle cx="109.79" cy="257.87" r="1.32" fill="#54c568"/>
<circle cx="111.12" cy="258.89" r="1.32" fill="#21918c"/>
<circle cx="111.89" cy="260.11" r="1.32" fill="#21918c"/>
<circle cx="112.03" cy="261.23" r="1.32" fill="#1fa287"/>
<circle cx="112.51" cy="262.06" r="1.32" fill="#54c568"/>
<circle cx="113.35" cy="263.05" r="1.32" fill="#31b57b"/>
<circle cx="94.22" cy="232.99" r="1.76" fill="#482979"/>
<circle cx="95.45" cy="232.61" r="1.76" fill="#482979"/>
<circle cx="101.68" cy="240.50" r="1.32" fill="#7fd34e"/>
<circle cx="102.75" cy="239.98" r="1.32" fill="#277e8e"/>
<circle cx="103.98" cy="239.81" r="1.32" fill="#7fd34e"/>
<circle cx="104.72" cy="239.94" r="1.32" fill="#277e8e"/>
<circle cx="105.85" cy="239.06" r="1.32" fill="#2f6b8e"/>
<circle cx="107.14" cy="238.96" r="1.32" fill="#277e8e"/>
<circle cx="108.58" cy="238.81" r="1.32" fill="#7fd34e"/>
<circle cx="109.38" cy="238.68" r="1.32" fill="#277e8e"/>
<circle cx="111.10" cy="237.95" r="1.32" fill="#7fd34e"/>
<circle cx="111.92" cy="237.55" r="1.32" fill="#21918c"/>
<circle cx="113.36" cy="237.11" r="1.32" fill="#39568c"/>
<circle cx="114.61" cy="237.00" r="1.32" fill="#39568c"/>
<circle cx="116.01" cy="237.05" r="1.32" fill="#7fd34e"/>
<circle cx="116.42" cy="236.78" r="1.32" fill="#39568c"/>
<circle cx="116.74" cy="234.78" r="1.32" fill="#277e8e"/>
<circle cx="117.46" cy="234.11" r="1.32" fill="#39568c"/>
<circle cx="117.38" cy="232.47" r="1.32" fill="#39568c"/>
<circle cx="117.51" cy="231.45" r="1.32" fill="#39568c"/>
<circle cx="116.99" cy="229.79" r="1.32" fill="#21918c"/>
<circle cx="117.00" cy="229.21" r="1.32" fill="#21918c"/>
<circle cx="117.50" cy="227.90" r="1.32" fill="#277e8e"/>
<circle cx="117.22" cy="226.39" r="1.32" fill="#7fd34e"/>
<circle cx="116.68" cy="225.77" r="1.32" fill="#39568c"/>
<circle cx="116.68" cy="224.07" r="1.32" fill="#7fd34e"/>
<circle cx="114.49" cy="223.38" r="1.32" fill="#2f6b8e"/>
<circle cx="132.97" cy="247.29" r="1.76" fill="#470e61"/>
<circle cx="134.01" cy="248.25" r="1.76" fill="#470e61"/>
<circle cx="135.80" cy="249.00" r="1.76" fill="#470e61"/>
<circle cx="136.80" cy="249.05" r="1.76" fill="#470e61"/>
<circle cx="137.83" cy="250.38" r="1.76" fill="#470e61"/>
<circle cx="138.25" cy="250.41" r="1.76" fill="#482979"/>
<circle cx="139.44" cy="251.33" r="1.76" fill="#470e61"/>
<circle cx="38.39" cy="268.97" r="1.54" fill="#1fa287"/>
<circle cx="39.59" cy="268.88" r="1.54" fill="#31b57b"/>
<circle cx="40.59" cy="268.55" r="1.54" fill="#424186"/>
<circle cx="41.77" cy="267.92" r="1.54" fill="#1fa287"/>
<circle cx="43.26" cy="267.34" r="1.54" fill="#1fa287"/>
<circle cx="44.20" cy="266.82" r="1.54" fill="#31b57b"/>
<circle cx="45.29" cy="266.47" r="1.54" fill="#424186"/>
<circle cx="46.32" cy="266.24" r="1.54" fill="#1fa287"/>
<circle cx="47.40" cy="266.11" r="1.54" fill="#482979"/>
<circle cx="49.03" cy="265.25" r="1.54" fill="#482979"/>
<circle cx="49.92" cy="265.29" r="1.54" fill="#482979"/>
<circle cx="51.38" cy="265.13" r="1.54" fill="#1fa287"/>
<circle cx="51.98" cy="264.32" r="1.54" fill="#424186"/>
<circle cx="53.12" cy="264.46" r="1.54" fill="#31b57b"/>
<circle cx="54.76" cy="263.84" r="1.54" fill="#1fa287"/>
<circle cx="55.72" cy="263.00" r="1.54" fill="#31b57b"/>
<circle cx="56.48" cy="263.23" r="1.54" fill="#482979"/>
<circle cx="58.46" cy="262.74" r="1.54" fill="#482979"/>
<circle cx="59.23" cy="262.16" r="1.54" fill="#482979"/>
<circle cx="60.45" cy="261.69" r="1.54" fill="#1fa287"/>
<circle cx="61.37" cy="261.86" r="1.54" fill="#31b57b"/>
<circle cx="33.72" cy="287.67" r="1.76" fill="#31b57b"/>
<circle cx="31.71" cy="286.53" r="1.76" fill="#1fa287"/>
<circle cx="30.59" cy="285.41" r="1.76" fill="#31b57b"/>
<circle cx="31.78" cy="285.00" r="1.76" fill="#31b57b"/>
<circle cx="32.67" cy="284.58" r="1.76" fill="#21918c"/>
<circle cx="33.83" cy="283.39" r="1.76" fill="#1fa287"/>
<circle cx="35.06" cy="283.02" r="1.76" fill="#31b57b"/>
<circle cx="35.88" cy="283.27" r="1.76" fill="#1fa287"/>
<circle cx="36.63" cy="282.50" r="1.76" fill="#1fa287"/>
<circle cx="37.75" cy="283.30" r="1.76" fill="#482979"/>
<circle cx="38.77" cy="282.59" r="1.76" fill="#21918c"/>
<circle cx="40.09" cy="283.28" r="1.76" fill="#482979"/>
<circle cx="41.75" cy="282.75" r="1.76" fill="#1fa287"/>
<circle cx="43.02" cy="283.62" r="1.76" fill="#21918c"/>
<circle cx="44.32" cy="284.35" r="1.76" fill="#31b57b"/>
<circle cx="45.45" cy="284.13" r="1.76" fill="#21918c"/>
<circle cx="65.22" cy="276.09" r="1.76" fill="#31b57b"/>
<circle cx="66.34" cy="275.27" r="1.76" fill="#54c568"/>
<circle cx="67.52" cy="275.29" r="1.76" fill="#31b57b"/>
<circle cx="69.13" cy="274.12" r="1.76" fill="#54c568"/>
<circle cx="70.13" cy="273.65" r="1.76" fill="#31b57b"/>
<circle cx="71.03" cy="272.89" r="1.76" fill="#31b57b"/>
<circle cx="62.65" cy="281.04" r="1.54" fill="#54c568"/>
<circle cx="62.74" cy="282.57" r="1.54" fill="#54c568"/>
<circle cx="62.15" cy="284.04" r="1.54" fill="#54c568"/>
<circle cx="62.45" cy="284.81" r="1.54" fill="#31b57b"/>
<circle cx="62.52" cy="285.99" r="1.54" fill="#277e8e"/>
<circle cx="62.76" cy="287.14" r="1.54" fill="#54c568"/>
<circle cx="63.05" cy="288.75" r="1.54" fill="#1fa287"/>
<circle cx="63.66" cy="289.25" r="1.54" fill="#277e8e"/>
<circle cx="64.32" cy="290.05" r="1.54" fill="#54c568"/>
<circle cx="65.51" cy="291.36" r="1.54" fill="#54c568"/>
<circle cx="65.83" cy="292.29" r="1.54" fill="#31b57b"/>
<circle cx="67.65" cy="292.01" r="1.54" fill="#1fa287"/>
<circle cx="68.82" cy="292.99" r="1.54" fill="#1fa287"/>
<circle cx="69.67" cy="293.28" r="1.54" fill="#1fa287"/>
<circle cx="70.49" cy="293.87" r="1.54" fill="#1fa287"/>
<circle cx="72.12" cy="293.51" r="1.54" fill="#1fa287"/>
<circle cx="73.03" cy="293.91" r="1.54" fill="#1fa287"/>
<circle cx="74.04" cy="294.83" r="1.54" fill="#277e8e"/>
<circle cx="75.68" cy="295.02" r="1.54" fill="#277e8e"/>
<circle cx="76.94" cy="294.80" r="1.54" fill="#1fa287"/>
<circle cx="77.79" cy="295.41" r="1.54" fill="#1fa287"/>
<circle cx="78.85" cy="295.52" r="1.54" fill="#1fa287"/>
<circle cx="80.55" cy="295.32" r="1.54" fill="#277e8e"/>
<circle cx="81.21" cy="295.08" r="1.54" fill="#54c568"/>
<circle cx="82.74" cy="295.11" r="1.54" fill="#31b57b"/>
<circle cx="83.88" cy="295.32" r="1.54" fill="#1fa287"/>
<circle cx="85.36" cy="294.43" r="1.54" fill="#277e8e"/>
<circle cx="86.37" cy="294.24" r="1.54" fill="#1fa287"/>
<circle cx="87.87" cy="293.78" r="1.54" fill="#54c568"/>
<circle cx="96.59" cy="266.97" r="1.76" fill="#21918c"/>
<circle cx="98.17" cy="267.23" r="1.76" fill="#1fa287"/>
<circle cx="98.66" cy="268.51" r="1.76" fill="#21918c"/>
<circle cx="99.71" cy="269.51" r="1.76" fill="#31b57b"/>
<circle cx="100.62" cy="270.31" r="1.76" fill="#31b57b"/>
<circle cx="101.56" cy="271.37" r="1.76" fill="#31b57b"/>
<circle cx="101.46" cy="272.67" r="1.76" fill="#21918c"/>
<circle cx="102.78" cy="273.76" r="1.76" fill="#1fa287"/>
<circle cx="103.65" cy="274.36" r="1.76" fill="#31b57b"/>
<circle cx="103.78" cy="275.47" r="1.76" fill="#1fa287"/>
<circle cx="104.72" cy="276.63" r="1.76" fill="#21918c"/>
<circle cx="104.74" cy="278.18" r="1.76" fill="#1fa287"/>
<circle cx="105.16" cy="279.10" r="1.76" fill="#21918c"/>
<circle cx="105.10" cy="280.39" r="1.76" fill="#31b57b"/>
<circle cx="104.09" cy="281.56" r="1.76" fill="#31b57b"/>
<circle cx="104.11" cy="282.06" r="1.76" fill="#1fa287"/>
<circle cx="103.46" cy="282.99" r="1.76" fill="#1fa287"/>
<circle cx="102.39" cy="284.22" r="1.76" fill="#31b57b"/>
<circle cx="101.73" cy="284.64" r="1.76" fill="#31b57b"/>
<circle cx="100.71" cy="284.89" r="1.76" fill="#1fa287"/>
<circle cx="99.16" cy="285.98" r="1.76" fill="#31b57b"/>
<circle cx="97.74" cy="285.81" r="1.76" fill="#21918c"/>
<circle cx="97.09" cy="286.08" r="1.76" fill="#1fa287"/>
<circle cx="95.91" cy="285.67" r="1.76" fill="#21918c"/>
<circle cx="94.94" cy="286.03" r="1.76" fill="#21918c"/>
<circle cx="93.52" cy="285.61" r="1.76" fill="#31b57b"/>
<circle cx="92.11" cy="284.33" r="1.76" fill="#21918c"/>
<circle cx="90.87" cy="283.81" r="1.76" fill="#1fa287"/>
<circle cx="89.63" cy="283.39" r="1.76" fill="#1fa287"/>
<circle cx="89.94" cy="282.10" r="1.76" fill="#1fa287"/>
<circle cx="88.92" cy="280.49" r="1.76" fill="#21918c"/>
<circle cx="89.88" cy="277.28" r="1.32" fill="#31b57b"/>
<circle cx="90.91" cy="277.61" r="1.32" fill="#31b57b"/>
<circle cx="92.76" cy="277.72" r="1.32" fill="#1fa287"/>
<circle cx="110.55" cy="280.57" r="1.32" fill="#1fa287"/>
<circle cx="111.81" cy="280.68" r="1.32" fill="#31b57b"/>
<circle cx="113.09" cy="281.05" r="1.32" fill="#31b57b"/>
<circle cx="113.71" cy="281.36" r="1.32" fill="#1fa287"/>
<circle cx="115.38" cy="281.35" r="1.32" fill="#31b57b"/>
<circle cx="116.70" cy="281.86" r="1.32" fill="#1fa287"/>
<circle cx="116.69" cy="283.33" r="1.32" fill="#1fa287"/>
<circle cx="116.51" cy="284.60" r="1.32" fill="#1fa287"/>
<circle cx="43.10" cy="299.80" r="1.32" fill="#470e61"/>
<circle cx="44.45" cy="299.35" r="1.32" fill="#482979"/>
<circle cx="46.10" cy="299.31" r="1.32" fill="#482979"/>
<circle cx="46.76" cy="299.41" r="1.32" fill="#482979"/>
<circle cx="47.70" cy="300.21" r="1.32" fill="#470e61"/>
<circle cx="49.28" cy="300.01" r="1.32" fill="#1fa287"/>
<circle cx="50.21" cy="299.64" r="1.32" fill="#482979"/>
<circle cx="51.29" cy="300.39" r="1.32" fill="#1fa287"/>
<circle cx="52.50" cy="300.03" r="1.32" fill="#1fa287"/>
<circle cx="53.63" cy="300.00" r="1.32" fill="#1fa287"/>
<circle cx="69.31" cy="306.06" r="1.54" fill="#7fd34e"/>
<circle cx="69.20" cy="307.26" r="1.54" fill="#54c568"/>
<circle cx="69.73" cy="307.97" r="1.54" fill="#39568c"/>
<circle cx="70.71" cy="309.11" r="1.54" fill="#31b57b"/>
<circle cx="71.05" cy="309.61" r="1.54" fill="#482979"/>
<circle cx="71.18" cy="311.04" r="1.54" fill="#39568c"/>
<circle cx="71.94" cy="311.61" r="1.54" fill="#39568c"/>
<circle cx="72.92" cy="312.35" r="1.54" fill="#7fd34e"/>
<circle cx="73.75" cy="313.85" r="1.54" fill="#31b57b"/>
<circle cx="75.21" cy="313.89" r="1.54" fill="#54c568"/>
<circle cx="76.14" cy="313.78" r="1.54" fill="#21918c"/>
<circle cx="76.80" cy="314.25" r="1.54" fill="#482979"/>
<circle cx="77.86" cy="314.97" r="1.54" fill="#39568c"/>
<circle cx="79.50" cy="314.88" r="1.54" fill="#31b57b"/>
<circle cx="80.31" cy="315.36" r="1.54" fill="#39568c"/>
<circle cx="81.61" cy="314.56" r="1.54" fill="#31b57b"/>
<circle cx="82.92" cy="314.52" r="1.54" fill="#54c568"/>
<circle cx="83.60" cy="314.84" r="1.54" fill="#54c568"/>
<circle cx="85.03" cy="314.40" r="1.54" fill="#54c568"/>
<circle cx="85.93" cy="314.44" r="1.54" fill="#7fd34e"/>
<circle cx="87.30" cy="313.54" r="1.54" fill="#39568c"/>
<circle cx="88.77" cy="313.53" r="1.54" fill="#482979"/>
<circle cx="89.22" cy="313.32" r="1.54" fill="#7fd34e"/>
<circle cx="90.26" cy="312.88" r="1.54" fill="#31b57b"/>
<circle cx="91.91" cy="312.25" r="1.54" fill="#21918c"/>
<circle cx="92.55" cy="311.98" r="1.54" fill="#39568c"/>
<circle cx="93.34" cy="310.99" r="1.54" fill="#482979"/>
<circle cx="94.22" cy="310.07" r="1.54" fill="#482979"/>
<circle cx="96.23" cy="309.56" r="1.54" fill="#54c568"/>
<circle cx="103.60" cy="301.99" r="1.98" fill="#277e8e"/>
<circle cx="104.38" cy="302.82" r="1.98" fill="#277e8e"/>
<circle cx="105.39" cy="304.17" r="1.98" fill="#31b57b"/>
<circle cx="106.24" cy="304.36" r="1.98" fill="#277e8e"/>
<circle cx="107.55" cy="305.00" r="1.98" fill="#31b57b"/>
<circle cx="55.69" cy="198.60" r="1.06" fill="#470e61"/>
<circle cx="56.05" cy="197.92" r="1.06" fill="#470e61"/>
<circle cx="52.26" cy="198.40" r="1.94" fill="#470e61"/>
<circle cx="52.42" cy="198.55" r="1.94" fill="#482979"/>
<circle cx="234.27" cy="192.54" r="1.32" fill="#00fff6"/>
<circle cx="235.69" cy="192.58" r="1.32" fill="#00fff6"/>
<circle cx="236.73" cy="192.64" r="1.32" fill="#00fff6"/>
<circle cx="237.82" cy="193.22" r="1.32" fill="#00fff6"/>
<circle cx="239.33" cy="193.05" r="1.32" fill="#00fff6"/>
<circle cx="240.39" cy="193.30" r="1.32" fill="#00fff6"/>
<circle cx="241.77" cy="192.87" r="1.32" fill="#00fff6"/>
<circle cx="243.06" cy="193.12" r="1.32" fill="#00fff6"/>
<circle cx="243.76" cy="193.41" r="1.32" fill="#00fff6"/>
<circle cx="245.28" cy="192.72" r="1.32" fill="#00fff6"/>
<circle cx="245.77" cy="192.64" r="1.32" fill="#00fff6"/>
<circle cx="247.33" cy="192.54" r="1.32" fill="#ff0000"/>
<circle cx="248.20" cy="192.67" r="1.32" fill="#00fff6"/>
<circle cx="249.53" cy="192.79" r="1.32" fill="#00fff6"/>
<circle cx="250.96" cy="192.31" r="1.32" fill="#00fff6"/>
<circle cx="252.41" cy="192.40" r="1.32" fill="#00fff6"/>
<circle cx="252.93" cy="192.20" r="1.32" fill="#00fff6"/>
<circle cx="254.06" cy="192.62" r="1.32" fill="#00fff6"/>
<circle cx="256.00" cy="193.36" r="1.32" fill="#00fff6"/>
<circle cx="256.94" cy="192.94" r="1.32" fill="#00fff6"/>
<circle cx="257.73" cy="193.27" r="1.32" fill="#00fff6"/>
<circle cx="259.02" cy="193.94" r="1.32" fill="#ff0000"/>
<circle cx="259.87" cy="194.09" r="1.32" fill="#ff0000"/>
<circle cx="261.20" cy="195.35" r="1.32" fill="#ff0000"/>
<circle cx="262.53" cy="196.21" r="1.32" fill="#ff0000"/>
<circle cx="263.29" cy="197.19" r="1.32" fill="#ff0000"/>
<circle cx="262.96" cy="198.69" r="1.32" fill="#ff0000"/>
<circle cx="262.40" cy="199.75" r="1.32" fill="#ff0000"/>
<circle cx="262.60" cy="200.62" r="1.32" fill="#ff0000"/>
<circle cx="261.41" cy="201.96" r="1.32" fill="#ff0000"/>
<circle cx="260.53" cy="202.16" r="1.32" fill="#ff0000"/>
<circle cx="259.51" cy="203.22" r="1.32" fill="#ff0000"/>
<circle cx="221.51" cy="198.37" r="1.32" fill="#ff0000"/>
<circle cx="222.04" cy="199.27" r="1.32" fill="#ff0000"/>
<circle cx="222.80" cy="200.64" r="1.32" fill="#ff0000"/>
<circle cx="223.03" cy="201.66" r="1.32" fill="#ff0000"/>
<circle cx="223.83" cy="203.03" r="1.32" fill="#ff0000"/>
<circle cx="225.09" cy="203.33" r="1.32" fill="#ff0000"/>
<circle cx="225.58" cy="204.58" r="1.32" fill="#ff0000"/>
<circle cx="225.75" cy="206.12" r="1.32" fill="#ff0000"/>
<circle cx="227.17" cy="207.10" r="1.32" fill="#ff0000"/>
<circle cx="227.62" cy="208.33" r="1.32" fill="#ff0000"/>
<circle cx="228.25" cy="209.12" r="1.32" fill="#ff0000"/>
<circle cx="229.04" cy="210.34" r="1.32" fill="#ff0000"/>
<circle cx="229.92" cy="210.90" r="1.32" fill="#ff0000"/>
<circle cx="230.04" cy="212.18" r="1.32" fill="#ff0000"/>
<circle cx="231.08" cy="213.07" r="1.32" fill="#ff0000"/>
<circle cx="232.05" cy="214.39" r="1.32" fill="#ff0000"/>
<circle cx="232.62" cy="214.98" r="1.32" fill="#ff0000"/>
<circle cx="233.35" cy="215.55" r="1.32" fill="#ff0000"/>
<circle cx="234.18" cy="216.36" r="1.32" fill="#ff0000"/>
<circle cx="235.46" cy="217.18" r="1.32" fill="#ff0000"/>
<circle cx="236.10" cy="217.15" r="1.32" fill="#ff0000"/>
<circle cx="237.59" cy="217.77" r="1.32" fill="#ff0000"/>
<circle cx="213.68" cy="207.54" r="1.76" fill="#00fff6"/>
<circle cx="212.94" cy="208.56" r="1.76" fill="#00fff6"/>
<circle cx="211.65" cy="209.56" r="1.76" fill="#00fff6"/>
<circle cx="210.90" cy="210.03" r="1.76" fill="#00fff6"/>
<circle cx="209.71" cy="210.77" r="1.76" fill="#00fff6"/>
<circle cx="208.90" cy="211.61" r="1.76" fill="#00fff6"/>
<circle cx="209.04" cy="212.51" r="1.76" fill="#00fff6"/>
<circle cx="207.80" cy="214.19" r="1.76" fill="#00fff6"/>
<circle cx="207.49" cy="214.93" r="1.76" fill="#00fff6"/>
<circle cx="207.68" cy="216.26" r="1.76" fill="#00fff6"/>
<circle cx="207.44" cy="217.48" r="1.76" fill="#00fff6"/>
<circle cx="207.15" cy="218.71" r="1.76" fill="#00fff6"/>
<circle cx="241.43" cy="217.91" r="1.14" fill="#ff0000"/>
<circle cx="242.29" cy="217.31" r="1.14" fill="#ff0000"/>
<circle cx="243.22" cy="216.46" r="1.14" fill="#ff0000"/>
<circle cx="244.04" cy="215.95" r="1.14" fill="#ff0000"/>
<circle cx="245.32" cy="214.66" r="1.14" fill="#ff0000"/>
<circle cx="246.16" cy="214.61" r="1.14" fill="#ff0000"/>
<circle cx="246.56" cy="213.22" r="1.14" fill="#ff0000"/>
<circle cx="265.99" cy="212.42" r="1.32" fill="#ff0000"/>
<circle cx="263.90" cy="211.95" r="1.32" fill="#ff0000"/>
<circle cx="263.25" cy="211.19" r="1.32" fill="#ff0000"/>
<circle cx="261.75" cy="210.92" r="1.32" fill="#ff0000"/>
<circle cx="260.56" cy="211.81" r="1.32" fill="#ff0000"/>
<circle cx="259.08" cy="212.16" r="1.32" fill="#ff0000"/>
<circle cx="258.04" cy="213.38" r="1.32" fill="#ff0000"/>
<circle cx="257.25" cy="213.83" r="1.32" fill="#ff0000"/>
<circle cx="256.61" cy="215.06" r="1.32" fill="#ff0000"/>
<circle cx="256.97" cy="216.54" r="1.32" fill="#ff0000"/>
<circle cx="256.42" cy="217.58" r="1.32" fill="#ff0000"/>
<circle cx="255.27" cy="218.30" r="1.32" fill="#ff0000"/>
<circle cx="255.60" cy="219.87" r="1.32" fill="#ff0000"/>
<circle cx="255.24" cy="220.99" r="1.32" fill="#ff0000"/>
<circle cx="254.59" cy="222.09" r="1.32" fill="#ff0000"/>
<circle cx="254.37" cy="222.94" r="1.32" fill="#ff0000"/>
<circle cx="253.18" cy="223.98" r="1.32" fill="#ff0000"/>
<circle cx="252.76" cy="225.10" r="1.32" fill="#ff0000"/>
<circle cx="252.88" cy="226.28" r="1.32" fill="#ff0000"/>
<circle cx="252.17" cy="227.30" r="1.32" fill="#ff0000"/>
<circle cx="251.87" cy="228.86" r="1.32" fill="#ff0000"/>
<circle cx="251.68" cy="230.43" r="1.32" fill="#ff0000"/>
<circle cx="250.81" cy="231.00" r="1.32" fill="#ff0000"/>
<circle cx="250.42" cy="232.79" r="1.32" fill="#ff0000"/>
<circle cx="249.55" cy="232.91" r="1.32" fill="#ff0000"/>
<circle cx="248.35" cy="232.69" r="1.32" fill="#ff0000"/>
<circle cx="247.06" cy="233.35" r="1.32" fill="#ff0000"/>
<circle cx="245.78" cy="233.89" r="1.32" fill="#ff0000"/>
<circle cx="244.84" cy="234.28" r="1.32" fill="#ff0000"/>
<circle cx="243.38" cy="234.71" r="1.32" fill="#ff0000"/>
<circle cx="242.74" cy="235.38" r="1.32" fill="#ff0000"/>
<circle cx="241.19" cy="235.77" r="1.32" fill="#ff0000"/>
<circle cx="240.38" cy="236.01" r="1.32" fill="#ff0000"/>
<circle cx="239.22" cy="236.65" r="1.32" fill="#ff0000"/>
<circle cx="238.09" cy="236.83" r="1.32" fill="#ff0000"/>
<circle cx="236.60" cy="237.11" r="1.32" fill="#ff0000"/>
<circle cx="236.00" cy="237.03" r="1.32" fill="#ff0000"/>
<circle cx="234.00" cy="237.08" r="1.32" fill="#ff0000"/>
<circle cx="233.48" cy="238.23" r="1.32" fill="#ff0000"/>
<circle cx="232.28" cy="238.36" r="1.32" fill="#ff0000"/>
<circle cx="230.94" cy="238.45" r="1.32" fill="#ff0000"/>
<circle cx="230.11" cy="240.27" r="1.32" fill="#ff0000"/>
<circle cx="228.89" cy="240.95" r="1.32" fill="#ff0000"/>
<circle cx="228.59" cy="242.01" r="1.32" fill="#ff0000"/>
<circle cx="227.27" cy="242.66" r="1.32" fill="#ff0000"/>
<circle cx="226.67" cy="244.10" r="1.32" fill="#ff0000"/>
<circle cx="225.86" cy="244.45" r="1.32" fill="#ff0000"/>
<circle cx="224.80" cy="245.64" r="1.32" fill="#ff0000"/>
<circle cx="223.53" cy="246.41" r="1.32" fill="#ff0000"/>
<circle cx="222.60" cy="246.73" r="1.32" fill="#ff0000"/>
<circle cx="221.08" cy="247.87" r="1.32" fill="#ff0000"/>
<circle cx="220.59" cy="247.92" r="1.32" fill="#ff0000"/>
<circle cx="218.81" cy="248.84" r="1.32" fill="#ff0000"/>
<circle cx="217.77" cy="249.51" r="1.32" fill="#ff0000"/>
<circle cx="216.59" cy="249.68" r="1.32" fill="#ff0000"/>
<circle cx="215.75" cy="249.76" r="1.32" fill="#ff0000"/>
<circle cx="214.84" cy="250.09" r="1.32" fill="#ff0000"/>
<circle cx="213.36" cy="250.55" r="1.32" fill="#ff0000"/>
<circle cx="212.09" cy="250.37" r="1.32" fill="#ff0000"/>
<circle cx="211.41" cy="251.13" r="1.32" fill="#ff0000"/>
<circle cx="209.74" cy="250.40" r="1.32" fill="#ff0000"/>
<circle cx="208.51" cy="249.72" r="1.32" fill="#ff0000"/>
<circle cx="207.87" cy="248.79" r="1.32" fill="#ff0000"/>
<circle cx="208.46" cy="247.24" r="1.32" fill="#ff0000"/>
<circle cx="269.43" cy="212.79" r="1.76" fill="#ff0000"/>
<circle cx="271.05" cy="213.34" r="1.76" fill="#ff0000"/>
<circle cx="212.19" cy="226.04" r="1.76" fill="#ff0000"/>
<circle cx="213.55" cy="226.93" r="1.76" fill="#ff0000"/>
<circle cx="207.77" cy="237.08" r="1.54" fill="#ff0000"/>
<circle cx="208.72" cy="236.97" r="1.54" fill="#ff0000"/>
<circle cx="210.15" cy="236.74" r="1.54" fill="#ff0000"/>
<circle cx="210.85" cy="236.45" r="1.54" fill="#ff0000"/>
<circle cx="212.63" cy="235.95" r="1.54" fill="#ff0000"/>
<circle cx="212.96" cy="235.32" r="1.54" fill="#ff0000"/>
<circle cx="188.84" cy="235.43" r="2.20" fill="#ff0000"/>
<circle cx="189.04" cy="237.03" r="2.20" fill="#ff0000"/>
<circle cx="188.81" cy="237.99" r="2.20" fill="#ff0000"/>
<circle cx="188.62" cy="239.89" r="2.20" fill="#ff0000"/>
<circle cx="187.98" cy="256.56" r="1.32" fill="#ff0000"/>
<circle cx="186.22" cy="256.80" r="1.32" fill="#ff0000"/>
<circle cx="185.70" cy="257.03" r="1.32" fill="#ff0000"/>
<circle cx="183.71" cy="257.71" r="1.32" fill="#ff0000"/>
<circle cx="183.44" cy="258.71" r="1.32" fill="#ff0000"/>
<circle cx="182.55" cy="260.03" r="1.32" fill="#ff0000"/>
<circle cx="181.78" cy="260.19" r="1.32" fill="#ff0000"/>
<circle cx="182.74" cy="261.37" r="1.32" fill="#ff0000"/>
<circle cx="183.82" cy="261.93" r="1.32" fill="#ff0000"/>
<circle cx="184.99" cy="262.20" r="1.32" fill="#ff0000"/>
<circle cx="186.05" cy="262.57" r="1.32" fill="#ff0000"/>
<circle cx="186.40" cy="262.76" r="1.32" fill="#ff0000"/>
<circle cx="188.16" cy="263.23" r="1.32" fill="#ff0000"/>
<circle cx="188.77" cy="264.14" r="1.32" fill="#ff0000"/>
<circle cx="190.13" cy="264.39" r="1.32" fill="#ff0000"/>
<circle cx="191.11" cy="264.47" r="1.32" fill="#ff0000"/>
<circle cx="191.92" cy="264.53" r="1.32" fill="#ff0000"/>
<circle cx="237.19" cy="259.43" r="1.32" fill="#ff0000"/>
<circle cx="238.58" cy="258.41" r="1.32" fill="#ff0000"/>
<circle cx="239.74" cy="257.84" r="1.32" fill="#ff0000"/>
<circle cx="240.58" cy="257.17" r="1.32" fill="#ff0000"/>
<circle cx="241.72" cy="256.68" r="1.32" fill="#ff0000"/>
<circle cx="243.20" cy="256.28" r="1.32" fill="#ff0000"/>
<circle cx="244.16" cy="255.65" r="1.32" fill="#ff0000"/>
<circle cx="244.76" cy="255.31" r="1.32" fill="#ff0000"/>
<circle cx="245.78" cy="254.31" r="1.32" fill="#ff0000"/>
<circle cx="247.17" cy="254.04" r="1.32" fill="#ff0000"/>
<circle cx="248.28" cy="252.50" r="1.32" fill="#ff0000"/>
<circle cx="249.24" cy="252.73" r="1.32" fill="#ff0000"/>
<circle cx="250.77" cy="251.63" r="1.32" fill="#ff0000"/>
<circle cx="251.29" cy="250.97" r="1.32" fill="#ff0000"/>
<circle cx="253.03" cy="250.31" r="1.32" fill="#ff0000"/>
<circle cx="254.43" cy="250.39" r="1.32" fill="#ff0000"/>
<circle cx="255.53" cy="250.77" r="1.32" fill="#ff0000"/>
<circle cx="256.41" cy="250.62" r="1.32" fill="#ff0000"/>
<circle cx="258.04" cy="250.39" r="1.32" fill="#ff0000"/>
<circle cx="259.23" cy="250.71" r="1.32" fill="#ff0000"/>
<circle cx="260.78" cy="250.61" r="1.32" fill="#ff0000"/>
<circle cx="261.24" cy="251.01" r="1.32" fill="#ff0000"/>
<circle cx="262.79" cy="251.19" r="1.32" fill="#ff0000"/>
<circle cx="264.24" cy="251.13" r="1.32" fill="#ff0000"/>
<circle cx="265.04" cy="251.57" r="1.32" fill="#ff0000"/>
<circle cx="265.93" cy="251.76" r="1.32" fill="#ff0000"/>
<circle cx="267.34" cy="252.07" r="1.32" fill="#ff0000"/>
<circle cx="268.81" cy="253.00" r="1.32" fill="#ff0000"/>
<circle cx="270.17" cy="252.70" r="1.32" fill="#ff0000"/>
<circle cx="270.82" cy="253.74" r="1.32" fill="#ff0000"/>
<circle cx="271.74" cy="253.35" r="1.32" fill="#ff0000"/>
<circle cx="272.91" cy="254.51" r="1.32" fill="#ff0000"/>
<circle cx="274.45" cy="254.61" r="1.32" fill="#ff0000"/>
<circle cx="275.24" cy="255.60" r="1.32" fill="#ff0000"/>
<circle cx="277.19" cy="255.99" r="1.32" fill="#ff0000"/>
<circle cx="278.27" cy="256.46" r="1.32" fill="#ff0000"/>
<circle cx="278.48" cy="257.01" r="1.32" fill="#ff0000"/>
<circle cx="279.22" cy="257.88" r="1.32" fill="#ff0000"/>
<circle cx="280.03" cy="258.69" r="1.32" fill="#ff0000"/>
<circle cx="280.49" cy="260.36" r="1.32" fill="#ff0000"/>
<circle cx="281.78" cy="261.45" r="1.32" fill="#ff0000"/>
<circle cx="281.90" cy="262.29" r="1.32" fill="#ff0000"/>
<circle cx="282.64" cy="263.76" r="1.32" fill="#ff0000"/>
<circle cx="263.62" cy="232.91" r="1.76" fill="#ff0000"/>
<circle cx="264.64" cy="233.21" r="1.76" fill="#ff0000"/>
<circle cx="270.86" cy="240.05" r="1.32" fill="#ff0000"/>
<circle cx="272.08" cy="240.56" r="1.32" fill="#ff0000"/>
<circle cx="273.04" cy="240.05" r="1.32" fill="#ff0000"/>
<circle cx="274.17" cy="239.44" r="1.32" fill="#ff0000"/>
<circle cx="275.78" cy="239.01" r="1.32" fill="#ff0000"/>
<circle cx="276.79" cy="239.16" r="1.32" fill="#ff0000"/>
<circle cx="277.90" cy="239.03" r="1.32" fill="#ff0000"/>
<circle cx="279.48" cy="238.26" r="1.32" fill="#ff0000"/>
<circle cx="280.58" cy="238.34" r="1.32" fill="#ff0000"/>
<circle cx="281.60" cy="237.85" r="1.32" fill="#ff0000"/>
<circle cx="282.75" cy="237.64" r="1.32" fill="#ff0000"/>
<circle cx="284.03" cy="236.88" r="1.32" fill="#ff0000"/>
<circle cx="285.16" cy="236.93" r="1.32" fill="#ff0000"/>
<circle cx="286.17" cy="236.76" r="1.32" fill="#ff0000"/>
<circle cx="286.15" cy="235.17" r="1.32" fill="#ff0000"/>
<circle cx="286.50" cy="233.93" r="1.32" fill="#ff0000"/>
<circle cx="286.28" cy="232.71" r="1.32" fill="#ff0000"/>
<circle cx="286.33" cy="231.31" r="1.32" fill="#ff0000"/>
<circle cx="286.76" cy="230.18" r="1.32" fill="#ff0000"/>
<circle cx="287.00" cy="229.28" r="1.32" fill="#ff0000"/>
<circle cx="286.32" cy="228.05" r="1.32" fill="#ff0000"/>
<circle cx="286.41" cy="226.52" r="1.32" fill="#ff0000"/>
<circle cx="285.91" cy="225.68" r="1.32" fill="#ff0000"/>
<circle cx="285.96" cy="224.00" r="1.32" fill="#ff0000"/>
<circle cx="284.02" cy="223.26" r="1.32" fill="#ff0000"/>
<circle cx="302.41" cy="247.41" r="1.76" fill="#7a00ff"/>
<circle cx="303.71" cy="248.06" r="1.76" fill="#7a00ff"/>
<circle cx="305.00" cy="249.16" r="1.76" fill="#7a00ff"/>
<circle cx="306.24" cy="249.24" r="1.76" fill="#7a00ff"/>
<circle cx="307.10" cy="250.14" r="1.76" fill="#7a00ff"/>
<circle cx="308.22" cy="250.43" r="1.76" fill="#7a00ff"/>
<circle cx="308.82" cy="251.33" r="1.76" fill="#7a00ff"/>
<circle cx="207.64" cy="268.97" r="1.54" fill="#ff0000"/>
<circle cx="208.83" cy="268.31" r="1.54" fill="#ff0000"/>
<circle cx="210.12" cy="268.66" r="1.54" fill="#ff0000"/>
<circle cx="211.46" cy="267.55" r="1.54" fill="#ff0000"/>
<circle cx="212.39" cy="267.75" r="1.54" fill="#ff0000"/>
<circle cx="213.08" cy="267.20" r="1.54" fill="#ff0000"/>
<circle cx="214.27" cy="266.47" r="1.54" fill="#ff0000"/>
<circle cx="215.28" cy="266.15" r="1.54" fill="#ff0000"/>
<circle cx="217.16" cy="266.05" r="1.54" fill="#ff0000"/>
<circle cx="218.27" cy="266.02" r="1.54" fill="#ff0000"/>
<circle cx="218.87" cy="265.53" r="1.54" fill="#ff0000"/>
<circle cx="220.72" cy="264.97" r="1.54" fill="#ff0000"/>
<circle cx="221.40" cy="264.16" r="1.54" fill="#ff0000"/>
<circle cx="222.68" cy="263.95" r="1.54" fill="#ff0000"/>
<circle cx="223.70" cy="263.84" r="1.54" fill="#ff0000"/>
<circle cx="225.22" cy="263.08" r="1.54" fill="#ff0000"/>
<circle cx="225.97" cy="262.94" r="1.54" fill="#ff0000"/>
<circle cx="227.61" cy="262.73" r="1.54" fill="#ff0000"/>
<circle cx="228.71" cy="262.58" r="1.54" fill="#ff0000"/>
<circle cx="229.97" cy="261.81" r="1.54" fill="#ff0000"/>
<circle cx="231.12" cy="261.65" r="1.54" fill="#ff0000"/>
<circle cx="202.66" cy="287.40" r="1.76" fill="#ff0000"/>
<circle cx="201.39" cy="286.95" r="1.76" fill="#ff0000"/>
<circle cx="200.43" cy="285.62" r="1.76" fill="#ff0000"/>
<circle cx="201.14" cy="284.75" r="1.76" fill="#ff0000"/>
<circle cx="202.09" cy="284.42" r="1.76" fill="#ff0000"/>
<circle cx="203.14" cy="284.12" r="1.76" fill="#ff0000"/>
<circle cx="203.63" cy="283.89" r="1.76" fill="#ff0000"/>
<circle cx="204.87" cy="283.55" r="1.76" fill="#ff0000"/>
<circle cx="206.74" cy="282.55" r="1.76" fill="#ff0000"/>
<circle cx="207.26" cy="282.56" r="1.76" fill="#ff0000"/>
<circle cx="208.97" cy="283.18" r="1.76" fill="#ff0000"/>
<circle cx="210.17" cy="283.30" r="1.76" fill="#ff0000"/>
<circle cx="210.77" cy="283.35" r="1.76" fill="#ff0000"/>
<circle cx="212.10" cy="283.41" r="1.76" fill="#ff0000"/>
<circle cx="213.50" cy="284.21" r="1.76" fill="#ff0000"/>
<circle cx="214.73" cy="284.55" r="1.76" fill="#ff0000"/>
<circle cx="235.06" cy="276.37" r="1.76" fill="#ff0000"/>
<circle cx="236.03" cy="275.45" r="1.76" fill="#ff0000"/>
<circle cx="237.17" cy="274.90" r="1.76" fill="#ff0000"/>
<circle cx="238.39" cy="274.01" r="1.76" fill="#ff0000"/>
<circle cx="238.95" cy="273.36" r="1.76" fill="#ff0000"/>
<circle cx="240.22" cy="273.51" r="1.76" fill="#ff0000"/>
<circle cx="232.19" cy="280.92" r="1.54" fill="#ff0000"/>
<circle cx="232.19" cy="282.54" r="1.54" fill="#ff0000"/>
<circle cx="231.31" cy="283.45" r="1.54" fill="#ff0000"/>
<circle cx="231.83" cy="284.63" r="1.54" fill="#ff0000"/>
<circle cx="232.19" cy="285.67" r="1.54" fill="#ff0000"/>
<circle cx="232.30" cy="287.42" r="1.54" fill="#ff0000"/>
<circle cx="232.48" cy="288.08" r="1.54" fill="#ff0000"/>
<circle cx="233.65" cy="289.00" r="1.54" fill="#ff0000"/>
<circle cx="234.51" cy="290.25" r="1.54" fill="#ff0000"/>
<circle cx="235.22" cy="291.05" r="1.54" fill="#ff0000"/>
<circle cx="235.59" cy="291.68" r="1.54" fill="#ff0000"/>
<circle cx="236.37" cy="292.71" r="1.54" fill="#ff0000"/>
<circle cx="237.68" cy="292.32" r="1.54" fill="#ff0000"/>
<circle cx="239.49" cy="293.13" r="1.54" fill="#ff0000"/>
<circle cx="240.34" cy="293.88" r="1.54" fill="#ff0000"/>
<circle cx="241.64" cy="293.68" r="1.54" fill="#ff0000"/>
<circle cx="242.40" cy="294.44" r="1.54" fill="#ff0000"/>
<circle cx="243.95" cy="294.25" r="1.54" fill="#ff0000"/>
<circle cx="244.74" cy="294.71" r="1.54" fill="#ff0000"/>
<circle cx="245.75" cy="295.17" r="1.54" fill="#ff0000"/>
<circle cx="247.48" cy="294.79" r="1.54" fill="#ff0000"/>
<circle cx="248.59" cy="295.38" r="1.54" fill="#ff0000"/>
<circle cx="249.33" cy="295.44" r="1.54" fill="#ff0000"/>
<circle cx="251.19" cy="295.26" r="1.54" fill="#ff0000"/>
<circle cx="252.35" cy="294.86" r="1.54" fill="#ff0000"/>
<circle cx="253.82" cy="295.05" r="1.54" fill="#ff0000"/>
<circle cx="254.65" cy="294.26" r="1.54" fill="#ff0000"/>
<circle cx="255.67" cy="293.65" r="1.54" fill="#ff0000"/>
<circle cx="256.95" cy="293.21" r="1.54" fill="#ff0000"/>
<circle cx="266.07" cy="266.63" r="1.76" fill="#ff0000"/>
<circle cx="266.86" cy="267.48" r="1.76" fill="#ff0000"/>
<circle cx="268.05" cy="268.22" r="1.76" fill="#ff0000"/>
<circle cx="268.98" cy="269.83" r="1.76" fill="#ff0000"/>
<circle cx="270.00" cy="270.71" r="1.76" fill="#ff0000"/>
<circle cx="270.17" cy="271.48" r="1.76" fill="#ff0000"/>
<circle cx="271.01" cy="272.77" r="1.76" fill="#ff0000"/>
<circle cx="271.96" cy="273.62" r="1.76" fill="#ff0000"/>
<circle cx="272.93" cy="274.13" r="1.76" fill="#ff0000"/>
<circle cx="273.04" cy="275.78" r="1.76" fill="#ff0000"/>
<circle cx="273.96" cy="276.62" r="1.76" fill="#ff0000"/>
<circle cx="273.52" cy="277.42" r="1.76" fill="#ff0000"/>
<circle cx="274.50" cy="279.20" r="1.76" fill="#ff0000"/>
<circle cx="274.39" cy="280.36" r="1.76" fill="#ff0000"/>
<circle cx="274.20" cy="280.78" r="1.76" fill="#ff0000"/>
<circle cx="273.57" cy="282.68" r="1.76" fill="#ff0000"/>
<circle cx="273.11" cy="283.62" r="1.76" fill="#ff0000"/>
<circle cx="272.15" cy="284.40" r="1.76" fill="#ff0000"/>
<circle cx="270.68" cy="285.01" r="1.76" fill="#ff0000"/>
<circle cx="269.99" cy="285.11" r="1.76" fill="#ff0000"/>
<circle cx="268.27" cy="285.36" r="1.76" fill="#ff0000"/>
<circle cx="267.41" cy="286.48" r="1.76" fill="#ff0000"/>
<circle cx="266.30" cy="286.28" r="1.76" fill="#ff0000"/>
<circle cx="264.87" cy="285.58" r="1.76" fill="#ff0000"/>
<circle cx="263.74" cy="285.46" r="1.76" fill="#ff0000"/>
<circle cx="263.07" cy="285.38" r="1.76" fill="#ff0000"/>
<circle cx="261.47" cy="284.90" r="1.76" fill="#ff0000"/>
<circle cx="260.42" cy="284.31" r="1.76" fill="#ff0000"/>
<circle cx="259.48" cy="283.50" r="1.76" fill="#ff0000"/>
<circle cx="258.93" cy="281.61" r="1.76" fill="#ff0000"/>
<circle cx="258.66" cy="280.64" r="1.76" fill="#ff0000"/>
<circle cx="259.70" cy="277.36" r="1.32" fill="#ff0000"/>
<circle cx="260.74" cy="276.92" r="1.32" fill="#ff0000"/>
<circle cx="262.52" cy="277.40" r="1.32" fill="#ff0000"/>
<circle cx="279.72" cy="280.50" r="1.32" fill="#ff0000"/>
<circle cx="280.95" cy="281.23" r="1.32" fill="#ff0000"/>
<circle cx="281.95" cy="281.07" r="1.32" fill="#ff0000"/>
<circle cx="283.35" cy="281.52" r="1.32" fill="#ff0000"/>
<circle cx="284.08" cy="281.37" r="1.32" fill="#ff0000"/>
<circle cx="285.59" cy="282.19" r="1.32" fill="#ff0000"/>
<circle cx="285.84" cy="282.71" r="1.32" fill="#ff0000"/>
<circle cx="285.97" cy="284.03" r="1.32" fill="#ff0000"/>
<circle cx="213.04" cy="299.16" r="1.32" fill="#ff0000"/>
<circle cx="214.40" cy="299.31" r="1.32" fill="#ff0000"/>
<circle cx="214.85" cy="299.17" r="1.32" fill="#ff0000"/>
<circle cx="216.29" cy="299.71" r="1.32" fill="#ff0000"/>
<circle cx="217.72" cy="299.95" r="1.32" fill="#ff0000"/>
<circle cx="218.67" cy="299.50" r="1.32" fill="#ff0000"/>
<circle cx="220.18" cy="299.77" r="1.32" fill="#ff0000"/>
<circle cx="220.73" cy="299.81" r="1.32" fill="#ff0000"/>
<circle cx="222.21" cy="300.34" r="1.32" fill="#ff0000"/>
<circle cx="223.13" cy="300.08" r="1.32" fill="#ff0000"/>
<circle cx="238.06" cy="305.88" r="1.54" fill="#ff0000"/>
<circle cx="239.14" cy="306.48" r="1.54" fill="#ff0000"/>
<circle cx="239.17" cy="308.08" r="1.54" fill="#ff0000"/>
<circle cx="240.04" cy="308.55" r="1.54" fill="#ff0000"/>
<circle cx="240.74" cy="310.09" r="1.54" fill="#ff0000"/>
<circle cx="241.22" cy="310.61" r="1.54" fill="#ff0000"/>
<circle cx="242.17" cy="311.60" r="1.54" fill="#ff0000"/>
<circle cx="242.60" cy="312.96" r="1.54" fill="#ff0000"/>
<circle cx="243.50" cy="313.11" r="1.54" fill="#ff0000"/>
<circle cx="243.95" cy="313.44" r="1.54" fill="#ff0000"/>
<circle cx="245.02" cy="314.35" r="1.54" fill="#ff0000"/>
<circle cx="246.49" cy="314.28" r="1.54" fill="#ff0000"/>
<circle cx="247.42" cy="314.60" r="1.54" fill="#ff0000"/>
<circle cx="248.56" cy="315.10" r="1.54" fill="#ff0000"/>
<circle cx="249.62" cy="315.53" r="1.54" fill="#ff0000"/>
<circle cx="251.17" cy="315.29" r="1.54" fill="#ff0000"/>
<circle cx="252.24" cy="314.43" r="1.54" fill="#ff0000"/>
<circle cx="253.11" cy="314.79" r="1.54" fill="#ff0000"/>
<circle cx="254.21" cy="314.31" r="1.54" fill="#ff0000"/>
<circle cx="255.24" cy="314.29" r="1.54" fill="#ff0000"/>
<circle cx="256.52" cy="313.68" r="1.54" fill="#ff0000"/>
<circle cx="258.12" cy="313.23" r="1.54" fill="#ff0000"/>
<circle cx="258.56" cy="313.33" r="1.54" fill="#ff0000"/>
<circle cx="259.95" cy="312.47" r="1.54" fill="#ff0000"/>
<circle cx="260.90" cy="312.48" r="1.54" fill="#ff0000"/>
<circle cx="262.35" cy="312.04" r="1.54" fill="#ff0000"/>
<circle cx="263.27" cy="310.70" r="1.54" fill="#ff0000"/>
<circle cx="263.88" cy="310.45" r="1.54" fill="#ff0000"/>
<circle cx="265.28" cy="309.55" r="1.54" fill="#ff0000"/>
<circle cx="272.60" cy="302.55" r="1.98" fill="#ff0000"/>
<circle cx="273.98" cy="302.82" r="1.98" fill="#ff0000"/>
<circle cx="274.71" cy="303.70" r="1.98" fill="#ff0000"/>
<circle cx="275.60" cy="304.04" r="1.98" fill="#ff0000"/>
<circle cx="276.83" cy="304.96" r="1.98" fill="#ff0000"/>
<circle cx="225.18" cy="198.56" r="1.06" fill="#ff0000"/>
<circle cx="225.92" cy="198.22" r="1.06" fill="#ff0000"/>
<circle cx="220.97" cy="198.54" r="1.94" fill="#ff0000"/>
<circle cx="221.69" cy="198.24" r="1.94" fill="#ff0000"/>
<circle cx="286.20" cy="227.70" r="1.3" fill="#00fff6"/>
<circle cx="216.60" cy="249.60" r="1.3" fill="#00fff6"/>
<circle cx="187.40" cy="264.80" r="1.3" fill="#00fff6"/>
<circle cx="244.70" cy="254.30" r="1.3" fill="#00fff6"/>
<circle cx="226.00" cy="206.10" r="1.3" fill="#00fff6"/>
<circle cx="262.80" cy="199.60" r="1.3" fill="#00fff6"/>
<circle cx="208.20" cy="217.70" r="1.3" fill="#7a00ff"/>
<line x1="12.75" y1="12.90" x2="12.75" y2="137.55" stroke="#262626" stroke-width="1.35"/>
<line x1="12.10" y1="136.90" x2="140.90" y2="136.90" stroke="#262626" stroke-width="1.35"/>
<line x1="12.75" y1="43.50" x2="15.15" y2="43.50" stroke="#333" stroke-width="0.9"/>
<line x1="12.75" y1="76.30" x2="15.15" y2="76.30" stroke="#333" stroke-width="0.9"/>
<line x1="12.75" y1="108.80" x2="15.15" y2="108.80" stroke="#333" stroke-width="0.9"/>
<line x1="39.90" y1="136.90" x2="39.90" y2="134.50" stroke="#333" stroke-width="0.9"/>
<line x1="109.60" y1="136.90" x2="109.60" y2="134.50" stroke="#333" stroke-width="0.9"/>
<text x="15.80" y="25.90" font-size="11.6" text-anchor="start" fill="#000" font-weight="bold" textLength="12.60" lengthAdjust="spacingAndGlyphs">a)</text>
<text x="7.30" y="75.30" font-size="8.8" text-anchor="middle" fill="#262626" textLength="59.40" lengthAdjust="spacingAndGlyphs" transform="rotate(-90 7.30 75.30)">UMAP coord 2</text>
<line x1="181.90" y1="12.90" x2="181.90" y2="137.55" stroke="#262626" stroke-width="1.35"/>
<line x1="181.25" y1="136.90" x2="310.30" y2="136.90" stroke="#262626" stroke-width="1.35"/>
<line x1="181.90" y1="43.50" x2="184.30" y2="43.50" stroke="#333" stroke-width="0.9"/>
<line x1="181.90" y1="76.30" x2="184.30" y2="76.30" stroke="#333" stroke-width="0.9"/>
<line x1="181.90" y1="108.80" x2="184.30" y2="108.80" stroke="#333" stroke-width="0.9"/>
<line x1="209.30" y1="136.90" x2="209.30" y2="134.50" stroke="#333" stroke-width="0.9"/>
<line x1="279.00" y1="136.90" x2="279.00" y2="134.50" stroke="#333" stroke-width="0.9"/>
<text x="185.20" y="25.90" font-size="11.6" text-anchor="start" fill="#000" font-weight="bold" textLength="12.60" lengthAdjust="spacingAndGlyphs">b)</text>
<line x1="12.75" y1="191.00" x2="12.75" y2="315.65" stroke="#262626" stroke-width="1.35"/>
<line x1="12.10" y1="315.00" x2="140.90" y2="315.00" stroke="#262626" stroke-width="1.35"/>
<line x1="12.75" y1="221.80" x2="15.15" y2="221.80" stroke="#333" stroke-width="0.9"/>
<line x1="12.75" y1="254.60" x2="15.15" y2="254.60" stroke="#333" stroke-width="0.9"/>
<line x1="12.75" y1="287.10" x2="15.15" y2="287.10" stroke="#333" stroke-width="0.9"/>
<line x1="39.90" y1="315.00" x2="39.90" y2="312.60" stroke="#333" stroke-width="0.9"/>
<line x1="109.60" y1="315.00" x2="109.60" y2="312.60" stroke="#333" stroke-width="0.9"/>
<text x="15.80" y="204.20" font-size="11.6" text-anchor="start" fill="#000" font-weight="bold" textLength="12.60" lengthAdjust="spacingAndGlyphs">c)</text>
<text x="7.30" y="253.60" font-size="8.8" text-anchor="middle" fill="#262626" textLength="59.40" lengthAdjust="spacingAndGlyphs" transform="rotate(-90 7.30 253.60)">UMAP coord 2</text>
<text x="76.40" y="326.60" font-size="8.8" text-anchor="middle" fill="#262626" textLength="59.40" lengthAdjust="spacingAndGlyphs">UMAP coord 1</text>
<line x1="181.90" y1="191.00" x2="181.90" y2="315.65" stroke="#262626" stroke-width="1.35"/>
<line x1="181.25" y1="315.00" x2="310.30" y2="315.00" stroke="#262626" stroke-width="1.35"/>
<line x1="181.90" y1="221.80" x2="184.30" y2="221.80" stroke="#333" stroke-width="0.9"/>
<line x1="181.90" y1="254.60" x2="184.30" y2="254.60" stroke="#333" stroke-width="0.9"/>
<line x1="181.90" y1="287.10" x2="184.30" y2="287.10" stroke="#333" stroke-width="0.9"/>
<line x1="209.30" y1="315.00" x2="209.30" y2="312.60" stroke="#333" stroke-width="0.9"/>
<line x1="279.00" y1="315.00" x2="279.00" y2="312.60" stroke="#333" stroke-width="0.9"/>
<text x="185.20" y="204.20" font-size="11.6" text-anchor="start" fill="#000" font-weight="bold" textLength="12.60" lengthAdjust="spacingAndGlyphs">d)</text>
<text x="245.80" y="326.60" font-size="8.8" text-anchor="middle" fill="#262626" textLength="59.40" lengthAdjust="spacingAndGlyphs">UMAP coord 1</text>
<rect x="12.40" y="142.10" width="8.33" height="7.50" fill="#393b79"/>
<rect x="20.43" y="142.10" width="8.33" height="7.50" fill="#5254a3"/>
<rect x="28.46" y="142.10" width="8.33" height="7.50" fill="#6b6ecf"/>
<rect x="36.49" y="142.10" width="8.33" height="7.50" fill="#9c9ede"/>
<rect x="44.52" y="142.10" width="8.33" height="7.50" fill="#637939"/>
<rect x="52.56" y="142.10" width="8.33" height="7.50" fill="#8ca252"/>
<rect x="60.59" y="142.10" width="8.33" height="7.50" fill="#b5cf6b"/>
<rect x="68.62" y="142.10" width="8.33" height="7.50" fill="#cedb9c"/>
<rect x="76.65" y="142.10" width="8.33" height="7.50" fill="#8c6d31"/>
<rect x="84.68" y="142.10" width="8.33" height="7.50" fill="#bd9e39"/>
<rect x="92.71" y="142.10" width="8.33" height="7.50" fill="#e7ba52"/>
<rect x="100.74" y="142.10" width="8.33" height="7.50" fill="#e7cb94"/>
<rect x="108.78" y="142.10" width="8.33" height="7.50" fill="#843c39"/>
<rect x="116.81" y="142.10" width="8.33" height="7.50" fill="#ad494a"/>
<rect x="124.84" y="142.10" width="8.33" height="7.50" fill="#d6616b"/>
<rect x="132.87" y="142.10" width="8.33" height="7.50" fill="#e7969c"/>
<line x1="16.42" y1="148.40" x2="16.42" y2="149.60" stroke="#222" stroke-width="0.7"/>
<line x1="24.45" y1="148.40" x2="24.45" y2="149.60" stroke="#222" stroke-width="0.7"/>
<line x1="32.48" y1="148.40" x2="32.48" y2="149.60" stroke="#222" stroke-width="0.7"/>
<line x1="40.51" y1="148.40" x2="40.51" y2="149.60" stroke="#222" stroke-width="0.7"/>
<line x1="48.54" y1="148.40" x2="48.54" y2="149.60" stroke="#222" stroke-width="0.7"/>
<line x1="56.57" y1="148.40" x2="56.57" y2="149.60" stroke="#222" stroke-width="0.7"/>
<line x1="64.60" y1="148.40" x2="64.60" y2="149.60" stroke="#222" stroke-width="0.7"/>
<line x1="72.63" y1="148.40" x2="72.63" y2="149.60" stroke="#222" stroke-width="0.7"/>
<line x1="80.67" y1="148.40" x2="80.67" y2="149.60" stroke="#222" stroke-width="0.7"/>
<line x1="88.70" y1="148.40" x2="88.70" y2="149.60" stroke="#222" stroke-width="0.7"/>
<line x1="96.73" y1="148.40" x2="96.73" y2="149.60" stroke="#222" stroke-width="0.7"/>
<line x1="104.76" y1="148.40" x2="104.76" y2="149.60" stroke="#222" stroke-width="0.7"/>
<line x1="112.79" y1="148.40" x2="112.79" y2="149.60" stroke="#222" stroke-width="0.7"/>
<line x1="120.82" y1="148.40" x2="120.82" y2="149.60" stroke="#222" stroke-width="0.7"/>
<line x1="128.85" y1="148.40" x2="128.85" y2="149.60" stroke="#222" stroke-width="0.7"/>
<line x1="136.88" y1="148.40" x2="136.88" y2="149.60" stroke="#222" stroke-width="0.7"/>
<rect x="12.40" y="142.10" width="128.50" height="7.50" fill="none" stroke="#444" stroke-width="0.6"/>
<text x="20.22" y="158.90" font-size="10.6" text-anchor="middle" fill="#333333" textLength="5.40" lengthAdjust="spacingAndGlyphs" transform="rotate(-90 20.22 158.90)">1</text>
<text x="28.25" y="158.90" font-size="10.6" text-anchor="middle" fill="#333333" textLength="5.40" lengthAdjust="spacingAndGlyphs" transform="rotate(-90 28.25 158.90)">2</text>
<text x="36.28" y="158.90" font-size="10.6" text-anchor="middle" fill="#333333" textLength="5.40" lengthAdjust="spacingAndGlyphs" transform="rotate(-90 36.28 158.90)">3</text>
<text x="44.31" y="158.90" font-size="10.6" text-anchor="middle" fill="#333333" textLength="5.40" lengthAdjust="spacingAndGlyphs" transform="rotate(-90 44.31 158.90)">4</text>
<text x="52.34" y="158.90" font-size="10.6" text-anchor="middle" fill="#333333" textLength="5.40" lengthAdjust="spacingAndGlyphs" transform="rotate(-90 52.34 158.90)">5</text>
<text x="60.37" y="158.90" font-size="10.6" text-anchor="middle" fill="#333333" textLength="5.40" lengthAdjust="spacingAndGlyphs" transform="rotate(-90 60.37 158.90)">6</text>
<text x="68.40" y="158.90" font-size="10.6" text-anchor="middle" fill="#333333" textLength="5.40" lengthAdjust="spacingAndGlyphs" transform="rotate(-90 68.40 158.90)">7</text>
<text x="76.43" y="158.90" font-size="10.6" text-anchor="middle" fill="#333333" textLength="5.40" lengthAdjust="spacingAndGlyphs" transform="rotate(-90 76.43 158.90)">8</text>
<text x="84.47" y="158.90" font-size="10.6" text-anchor="middle" fill="#333333" textLength="5.40" lengthAdjust="spacingAndGlyphs" transform="rotate(-90 84.47 158.90)">9</text>
<text x="92.50" y="158.50" font-size="10.6" text-anchor="middle" fill="#333333" textLength="11.20" lengthAdjust="spacingAndGlyphs" transform="rotate(-90 92.50 158.50)">10</text>
<text x="100.53" y="158.50" font-size="10.6" text-anchor="middle" fill="#333333" textLength="11.20" lengthAdjust="spacingAndGlyphs" transform="rotate(-90 100.53 158.50)">11</text>
<text x="108.56" y="158.50" font-size="10.6" text-anchor="middle" fill="#333333" textLength="11.20" lengthAdjust="spacingAndGlyphs" transform="rotate(-90 108.56 158.50)">12</text>
<text x="116.59" y="158.50" font-size="10.6" text-anchor="middle" fill="#333333" textLength="11.20" lengthAdjust="spacingAndGlyphs" transform="rotate(-90 116.59 158.50)">13</text>
<text x="124.62" y="158.50" font-size="10.6" text-anchor="middle" fill="#333333" textLength="11.20" lengthAdjust="spacingAndGlyphs" transform="rotate(-90 124.62 158.50)">14</text>
<text x="132.65" y="158.50" font-size="10.6" text-anchor="middle" fill="#333333" textLength="11.20" lengthAdjust="spacingAndGlyphs" transform="rotate(-90 132.65 158.50)">15</text>
<text x="140.68" y="158.50" font-size="10.6" text-anchor="middle" fill="#333333" textLength="11.20" lengthAdjust="spacingAndGlyphs" transform="rotate(-90 140.68 158.50)">16</text>
<text x="76.40" y="175.80" font-size="11" text-anchor="middle" fill="#333333" textLength="120.40" lengthAdjust="spacingAndGlyphs">Cohort Phenotype Label</text>
<rect x="181.80" y="142.20" width="3.96" height="7.40" fill="#393b79"/>
<rect x="185.46" y="142.20" width="3.96" height="7.40" fill="#5254a3"/>
<rect x="189.11" y="142.20" width="3.96" height="7.40" fill="#6b6ecf"/>
<rect x="192.77" y="142.20" width="3.96" height="7.40" fill="#9c9ede"/>
<rect x="196.43" y="142.20" width="3.96" height="7.40" fill="#637939"/>
<rect x="200.09" y="142.20" width="3.96" height="7.40" fill="#8ca252"/>
<rect x="203.74" y="142.20" width="3.96" height="7.40" fill="#b5cf6b"/>
<rect x="207.40" y="142.20" width="3.96" height="7.40" fill="#cedb9c"/>
<rect x="211.06" y="142.20" width="3.96" height="7.40" fill="#8c6d31"/>
<rect x="214.71" y="142.20" width="3.96" height="7.40" fill="#bd9e39"/>
<rect x="218.37" y="142.20" width="3.96" height="7.40" fill="#e7ba52"/>
<rect x="222.03" y="142.20" width="3.96" height="7.40" fill="#e7cb94"/>
<rect x="225.69" y="142.20" width="3.96" height="7.40" fill="#843c39"/>
<rect x="229.34" y="142.20" width="3.96" height="7.40" fill="#ad494a"/>
<rect x="233.00" y="142.20" width="3.96" height="7.40" fill="#d6616b"/>
<rect x="236.66" y="142.20" width="3.96" height="7.40" fill="#e7969c"/>
<rect x="240.31" y="142.20" width="3.96" height="7.40" fill="#7b4173"/>
<rect x="243.97" y="142.20" width="3.96" height="7.40" fill="#a55194"/>
<rect x="247.63" y="142.20" width="3.96" height="7.40" fill="#ce6dbd"/>
<rect x="251.29" y="142.20" width="3.96" height="7.40" fill="#de9ed6"/>
<rect x="254.94" y="142.20" width="3.96" height="7.40" fill="#3182bd"/>
<rect x="258.60" y="142.20" width="3.96" height="7.40" fill="#6baed6"/>
<rect x="262.26" y="142.20" width="3.96" height="7.40" fill="#9ecae1"/>
<rect x="265.91" y="142.20" width="3.96" height="7.40" fill="#c6dbef"/>
<rect x="269.57" y="142.20" width="3.96" height="7.40" fill="#e6550d"/>
<rect x="273.23" y="142.20" width="3.96" height="7.40" fill="#fd8d3c"/>
<rect x="276.89" y="142.20" width="3.96" height="7.40" fill="#fdae6b"/>
<rect x="280.54" y="142.20" width="3.96" height="7.40" fill="#fdd0a2"/>
<rect x="284.20" y="142.20" width="3.96" height="7.40" fill="#31a354"/>
<rect x="287.86" y="142.20" width="3.96" height="7.40" fill="#74c476"/>
<rect x="291.51" y="142.20" width="3.96" height="7.40" fill="#a1d99b"/>
<rect x="295.17" y="142.20" width="3.96" height="7.40" fill="#c7e9c0"/>
<rect x="298.83" y="142.20" width="3.96" height="7.40" fill="#756bb1"/>
<rect x="302.49" y="142.20" width="3.96" height="7.40" fill="#9e9ac8"/>
<rect x="306.14" y="142.20" width="3.96" height="7.40" fill="#bcbddc"/>
<line x1="183.63" y1="148.40" x2="183.63" y2="149.60" stroke="#222" stroke-width="0.7"/>
<line x1="209.23" y1="148.40" x2="209.23" y2="149.60" stroke="#222" stroke-width="0.7"/>
<line x1="234.83" y1="148.40" x2="234.83" y2="149.60" stroke="#222" stroke-width="0.7"/>
<line x1="260.43" y1="148.40" x2="260.43" y2="149.60" stroke="#222" stroke-width="0.7"/>
<line x1="286.03" y1="148.40" x2="286.03" y2="149.60" stroke="#222" stroke-width="0.7"/>
<rect x="181.80" y="142.20" width="128.00" height="7.40" fill="none" stroke="#444" stroke-width="0.6"/>
<text x="180.00" y="161.80" font-size="10.8" text-anchor="middle" fill="#333333">1</text>
<text x="206.60" y="161.80" font-size="10.8" text-anchor="middle" fill="#333333">8</text>
<text x="234.50" y="161.80" font-size="10.8" text-anchor="middle" fill="#333333">15</text>
<text x="260.60" y="161.80" font-size="10.8" text-anchor="middle" fill="#333333">22</text>
<text x="287.20" y="161.80" font-size="10.8" text-anchor="middle" fill="#333333">29</text>
<text x="245.60" y="174.20" font-size="11" text-anchor="middle" fill="#333333" textLength="65.40" lengthAdjust="spacingAndGlyphs">Patient index</text>
<rect x="12.50" y="334.10" width="10.18" height="7.20" fill="#470e61"/>
<rect x="22.38" y="334.10" width="10.18" height="7.20" fill="#482979"/>
<rect x="32.25" y="334.10" width="10.18" height="7.20" fill="#424186"/>
<rect x="42.13" y="334.10" width="10.18" height="7.20" fill="#39568c"/>
<rect x="52.01" y="334.10" width="10.18" height="7.20" fill="#2f6b8e"/>
<rect x="61.88" y="334.10" width="10.18" height="7.20" fill="#277e8e"/>
<rect x="71.76" y="334.10" width="10.18" height="7.20" fill="#21918c"/>
<rect x="81.64" y="334.10" width="10.18" height="7.20" fill="#1fa287"/>
<rect x="91.52" y="334.10" width="10.18" height="7.20" fill="#31b57b"/>
<rect x="101.39" y="334.10" width="10.18" height="7.20" fill="#54c568"/>
<rect x="111.27" y="334.10" width="10.18" height="7.20" fill="#7fd34e"/>
<rect x="121.15" y="334.10" width="10.18" height="7.20" fill="#b2dd2d"/>
<rect x="131.02" y="334.10" width="10.18" height="7.20" fill="#e7e419"/>
<line x1="17.44" y1="340.10" x2="17.44" y2="341.30" stroke="#222" stroke-width="0.7"/>
<line x1="27.32" y1="340.10" x2="27.32" y2="341.30" stroke="#222" stroke-width="0.7"/>
<line x1="37.19" y1="340.10" x2="37.19" y2="341.30" stroke="#222" stroke-width="0.7"/>
<line x1="47.07" y1="340.10" x2="47.07" y2="341.30" stroke="#222" stroke-width="0.7"/>
<line x1="56.95" y1="340.10" x2="56.95" y2="341.30" stroke="#222" stroke-width="0.7"/>
<line x1="66.82" y1="340.10" x2="66.82" y2="341.30" stroke="#222" stroke-width="0.7"/>
<line x1="76.70" y1="340.10" x2="76.70" y2="341.30" stroke="#222" stroke-width="0.7"/>
<line x1="86.58" y1="340.10" x2="86.58" y2="341.30" stroke="#222" stroke-width="0.7"/>
<line x1="96.45" y1="340.10" x2="96.45" y2="341.30" stroke="#222" stroke-width="0.7"/>
<line x1="106.33" y1="340.10" x2="106.33" y2="341.30" stroke="#222" stroke-width="0.7"/>
<line x1="116.21" y1="340.10" x2="116.21" y2="341.30" stroke="#222" stroke-width="0.7"/>
<line x1="126.08" y1="340.10" x2="126.08" y2="341.30" stroke="#222" stroke-width="0.7"/>
<line x1="135.96" y1="340.10" x2="135.96" y2="341.30" stroke="#222" stroke-width="0.7"/>
<rect x="12.50" y="334.10" width="128.40" height="7.20" fill="none" stroke="#444" stroke-width="0.6"/>
<text x="21.24" y="351.10" font-size="10.6" text-anchor="middle" fill="#333333" textLength="5.40" lengthAdjust="spacingAndGlyphs" transform="rotate(-90 21.24 351.10)">5</text>
<text x="31.12" y="351.10" font-size="10.6" text-anchor="middle" fill="#333333" textLength="5.40" lengthAdjust="spacingAndGlyphs" transform="rotate(-90 31.12 351.10)">8</text>
<text x="40.99" y="351.10" font-size="10.6" text-anchor="middle" fill="#333333" textLength="5.40" lengthAdjust="spacingAndGlyphs" transform="rotate(-90 40.99 351.10)">9</text>
<text x="50.87" y="350.80" font-size="10.6" text-anchor="middle" fill="#333333" textLength="11.20" lengthAdjust="spacingAndGlyphs" transform="rotate(-90 50.87 350.80)">10</text>
<text x="60.75" y="350.80" font-size="10.6" text-anchor="middle" fill="#333333" textLength="11.20" lengthAdjust="spacingAndGlyphs" transform="rotate(-90 60.75 350.80)">11</text>
<text x="70.62" y="350.80" font-size="10.6" text-anchor="middle" fill="#333333" textLength="11.20" lengthAdjust="spacingAndGlyphs" transform="rotate(-90 70.62 350.80)">12</text>
<text x="80.50" y="350.80" font-size="10.6" text-anchor="middle" fill="#333333" textLength="11.20" lengthAdjust="spacingAndGlyphs" transform="rotate(-90 80.50 350.80)">13</text>
<text x="90.38" y="350.80" font-size="10.6" text-anchor="middle" fill="#333333" textLength="11.20" lengthAdjust="spacingAndGlyphs" transform="rotate(-90 90.38 350.80)">14</text>
<text x="100.25" y="350.80" font-size="10.6" text-anchor="middle" fill="#333333" textLength="11.20" lengthAdjust="spacingAndGlyphs" transform="rotate(-90 100.25 350.80)">15</text>
<text x="110.13" y="350.80" font-size="10.6" text-anchor="middle" fill="#333333" textLength="11.20" lengthAdjust="spacingAndGlyphs" transform="rotate(-90 110.13 350.80)">16</text>
<text x="120.01" y="350.80" font-size="10.6" text-anchor="middle" fill="#333333" textLength="11.20" lengthAdjust="spacingAndGlyphs" transform="rotate(-90 120.01 350.80)">17</text>
<text x="129.88" y="350.80" font-size="10.6" text-anchor="middle" fill="#333333" textLength="11.20" lengthAdjust="spacingAndGlyphs" transform="rotate(-90 129.88 350.80)">18</text>
<text x="139.76" y="350.80" font-size="10.6" text-anchor="middle" fill="#333333" textLength="11.20" lengthAdjust="spacingAndGlyphs" transform="rotate(-90 139.76 350.80)">20</text>
<text x="39.60" y="367.70" font-size="10.6" text-anchor="start" fill="#333333" textLength="57.00" lengthAdjust="spacingAndGlyphs">PEEP (cm H</text>
<text x="96.70" y="372.00" font-size="9.2" text-anchor="start" fill="#333333" textLength="4.80" lengthAdjust="spacingAndGlyphs">2</text>
<text x="102.20" y="367.70" font-size="10.6" text-anchor="start" fill="#333333" textLength="11.60" lengthAdjust="spacingAndGlyphs">O)</text>
<rect x="181.40" y="333.80" width="32.37" height="7.40" fill="#7a00ff"/>
<rect x="213.47" y="333.80" width="32.37" height="7.40" fill="#00fff6"/>
<rect x="245.55" y="333.80" width="32.37" height="7.40" fill="#84ff00"/>
<rect x="277.62" y="333.80" width="32.37" height="7.40" fill="#ff0000"/>
<line x1="197.44" y1="340.00" x2="197.44" y2="341.20" stroke="#222" stroke-width="0.7"/>
<line x1="229.51" y1="340.00" x2="229.51" y2="341.20" stroke="#222" stroke-width="0.7"/>
<line x1="261.59" y1="340.00" x2="261.59" y2="341.20" stroke="#222" stroke-width="0.7"/>
<line x1="293.66" y1="340.00" x2="293.66" y2="341.20" stroke="#222" stroke-width="0.7"/>
<rect x="181.40" y="333.80" width="128.30" height="7.40" fill="none" stroke="#444" stroke-width="0.6"/>
<text x="202.94" y="352.50" font-size="10.7" text-anchor="end" fill="#333333" transform="rotate(-30 202.94 352.50)">SPONT</text>
<text x="235.01" y="352.50" font-size="10.7" text-anchor="end" fill="#333333" transform="rotate(-30 235.01 352.50)">PC</text>
<text x="267.09" y="352.50" font-size="10.7" text-anchor="end" fill="#333333" transform="rotate(-30 267.09 352.50)">SC</text>
<text x="299.16" y="352.50" font-size="10.7" text-anchor="end" fill="#333333" transform="rotate(-30 299.16 352.50)">APVC</text>
<text x="245.75" y="382.00" font-size="10.6" text-anchor="middle" fill="#333333" textLength="92.00" lengthAdjust="spacingAndGlyphs">majority MV mode</text>
<clipPath id="ce"><rect x="351.1" y="13.3" width="297.6" height="36.2"/></clipPath>
<g clip-path="url(#ce)" fill="none" stroke-linejoin="round">
<path d="M351.00,48.20 C360.00,48.18 395.33,48.23 405.00,48.10 C414.67,47.97 407.83,48.10 409.00,47.40 C410.17,46.70 410.83,45.98 412.00,43.90 C413.17,41.82 414.83,37.07 416.00,34.90 C417.17,32.73 418.00,31.60 419.00,30.90 C420.00,30.20 421.00,30.62 422.00,30.70 C423.00,30.78 424.00,30.53 425.00,31.40 C426.00,32.27 427.00,34.15 428.00,35.90 C429.00,37.65 430.00,40.32 431.00,41.90 C432.00,43.48 432.50,44.68 434.00,45.40 C435.50,46.12 434.00,45.98 440.00,46.20 C446.00,46.42 460.00,46.53 470.00,46.70 C480.00,46.87 485.00,47.00 500.00,47.20 C515.00,47.40 535.23,47.75 560.00,47.90 C584.77,48.05 633.83,48.07 648.60,48.10" stroke="#5254a3" stroke-width="1.0"/>
<path d="M351.00,48.00 C353.17,47.75 359.17,46.95 364.00,46.50 C368.83,46.05 374.35,45.68 380.00,45.30 C385.65,44.92 394.07,44.68 397.90,44.20 C401.73,43.72 401.25,43.08 403.00,42.40 C404.75,41.72 406.90,40.38 408.40,40.10 C409.90,39.82 410.83,40.40 412.00,40.70 C413.17,41.00 414.07,41.37 415.40,41.90 C416.73,42.43 418.25,43.23 420.00,43.90 C421.75,44.57 423.90,45.32 425.90,45.90 C427.90,46.48 428.82,47.07 432.00,47.40 C435.18,47.73 442.83,47.82 445.00,47.90" stroke="#bd9e39" stroke-width="1.0"/>
<path d="M395.00,47.90 C396.67,47.73 401.83,47.32 405.00,46.90 C408.17,46.48 411.17,45.48 414.00,45.40 C416.83,45.32 419.00,46.02 422.00,46.40 C425.00,46.78 430.33,47.48 432.00,47.70" stroke="#e7cb94" stroke-width="1.0"/>
<path d="M495.00,48.10 C497.50,47.82 506.17,47.27 510.00,46.40 C513.83,45.53 515.50,43.75 518.00,42.90 C520.50,42.05 523.00,41.38 525.00,41.30 C527.00,41.22 528.17,41.80 530.00,42.40 C531.83,43.00 533.50,44.15 536.00,44.90 C538.50,45.65 541.00,46.43 545.00,46.90 C549.00,47.37 557.50,47.57 560.00,47.70" stroke="#e7969c" stroke-width="1.0"/>
<path d="M495.00,48.10 C497.50,47.73 506.17,46.85 510.00,45.90 C513.83,44.95 515.50,43.40 518.00,42.40 C520.50,41.40 523.00,40.07 525.00,39.90 C527.00,39.73 528.17,40.65 530.00,41.40 C531.83,42.15 533.50,43.57 536.00,44.40 C538.50,45.23 541.00,45.90 545.00,46.40 C549.00,46.90 557.50,47.23 560.00,47.40" stroke="#d6616b" stroke-width="1.0"/>
<path d="M497.00,48.10 C499.50,47.82 508.17,47.18 512.00,46.40 C515.83,45.62 517.67,44.07 520.00,43.40 C522.33,42.73 524.00,42.32 526.00,42.40 C528.00,42.48 529.67,43.23 532.00,43.90 C534.33,44.57 536.17,45.77 540.00,46.40 C543.83,47.03 552.50,47.48 555.00,47.70" stroke="#ad494a" stroke-width="1.0"/>
<path d="M490.00,48.20 C491.67,48.15 497.00,48.12 500.00,47.90 C503.00,47.68 505.47,47.42 508.00,46.90 C510.53,46.38 513.53,45.80 515.20,44.80 C516.87,43.80 517.03,42.17 518.00,40.90 C518.97,39.63 520.00,38.03 521.00,37.20 C522.00,36.37 523.02,36.23 524.00,35.90 C524.98,35.57 525.90,34.70 526.90,35.20 C527.90,35.70 529.03,37.70 530.00,38.90 C530.97,40.10 531.47,41.03 532.70,42.40 C533.93,43.77 535.35,46.18 537.40,47.10 C539.45,48.02 543.73,47.77 545.00,47.90" stroke="#7b4173" stroke-width="1.0"/>
<path d="M540.00,47.40 C542.50,47.07 550.57,46.23 555.00,45.40 C559.43,44.57 563.77,43.23 566.60,42.40 C569.43,41.57 570.27,40.88 572.00,40.40 C573.73,39.92 575.33,39.50 577.00,39.50 C578.67,39.50 580.00,39.62 582.00,40.40 C584.00,41.18 586.83,43.20 589.00,44.20 C591.17,45.20 592.33,45.87 595.00,46.40 C597.67,46.93 603.33,47.23 605.00,47.40" stroke="#8c6d31" stroke-width="1.0"/>
<path d="M545.00,46.90 C547.50,46.40 555.83,44.68 560.00,43.90 C564.17,43.12 566.67,42.53 570.00,42.20 C573.33,41.87 577.33,41.70 580.00,41.90 C582.67,42.10 584.00,42.73 586.00,43.40 C588.00,44.07 589.67,45.23 592.00,45.90 C594.33,46.57 598.67,47.15 600.00,47.40" stroke="#ad494a" stroke-width="1.0"/>
<path d="M585.00,47.90 C585.87,47.38 588.20,45.50 590.20,44.80 C592.20,44.10 594.67,44.00 597.00,43.70 C599.33,43.40 601.63,43.25 604.20,43.00 C606.77,42.75 609.77,42.22 612.40,42.20 C615.03,42.18 617.47,42.57 620.00,42.90 C622.53,43.23 624.60,43.70 627.60,44.20 C630.60,44.70 634.50,45.27 638.00,45.90 C641.50,46.53 646.83,47.65 648.60,48.00" stroke="#6b6ecf" stroke-width="1.0"/>
<path d="M595.00,47.40 C596.53,46.57 601.12,43.23 604.20,42.40 C607.28,41.57 610.20,42.00 613.50,42.40 C616.80,42.80 619.92,44.02 624.00,44.80 C628.08,45.58 633.90,46.58 638.00,47.10 C642.10,47.62 646.83,47.77 648.60,47.90" stroke="#e7ba52" stroke-width="1.0"/>
<path d="M580.00,48.30 C580.92,48.27 583.83,48.50 585.50,48.10 C587.17,47.70 588.43,46.45 590.00,45.90 C591.57,45.35 593.40,44.88 594.90,44.80 C596.40,44.72 597.45,45.12 599.00,45.40 C600.55,45.68 602.37,46.08 604.20,46.50 C606.03,46.92 609.03,47.67 610.00,47.90" stroke="#7b4173" stroke-width="1.0"/>
<path d="M351.00,47.90 C362.50,47.87 395.17,47.78 420.00,47.70 C444.83,47.62 476.67,47.48 500.00,47.40 C523.33,47.32 535.23,47.20 560.00,47.20 C584.77,47.20 633.83,47.37 648.60,47.40" stroke="#e7969c" stroke-width="1.0"/>
<path d="M351.00,48.30 L648.60,48.30" stroke="#d6616b" stroke-width="1.0"/>
<path d="M430.00,46.50 C435.00,46.57 448.33,46.78 460.00,46.90 C471.67,47.02 483.33,47.07 500.00,47.20 C516.67,47.33 543.33,47.55 560.00,47.70 C576.67,47.85 593.33,48.03 600.00,48.10" stroke="#393b79" stroke-width="1.0"/>
<path d="M351.00,48.40 L648.60,48.40" stroke="#7b4173" stroke-width="1.0"/>
<path d="M351.00,48.90 L648.60,48.90" stroke="#a55194" stroke-width="1.0"/>
<path d="M575.00,48.20 L584.00,47.90 L588.40,45.90 L593.50,10.90 L597.00,10.90 L604.80,45.40 L608.00,47.70 L620.00,48.20" stroke="#843c39" stroke-width="1.1"/>
</g>
<clipPath id="cf"><rect x="351.1" y="102.35" width="297.6" height="35.85000000000001"/></clipPath>
<g clip-path="url(#cf)" fill="none" stroke-linejoin="round">
<path d="M351.00,136.60 C352.78,136.30 359.03,135.53 361.70,134.80 C364.37,134.07 365.05,132.98 367.00,132.20 C368.95,131.42 371.17,130.35 373.40,130.10 C375.63,129.85 378.07,130.25 380.40,130.70 C382.73,131.15 384.68,132.32 387.40,132.80 C390.12,133.28 392.93,133.27 396.70,133.60 C400.47,133.93 404.45,134.48 410.00,134.80 C415.55,135.12 426.67,135.38 430.00,135.50" stroke="#637939" stroke-width="1.0"/>
<path d="M351.00,136.50 C355.83,136.25 368.50,135.50 380.00,135.00 C391.50,134.50 406.67,133.83 420.00,133.50 C433.33,133.17 446.67,132.83 460.00,133.00 C473.33,133.17 483.33,134.08 500.00,134.50 C516.67,134.92 535.23,135.25 560.00,135.50 C584.77,135.75 633.83,135.92 648.60,136.00" stroke="#e7969c" stroke-width="1.0"/>
<path d="M370.00,136.00 C375.00,135.67 388.33,134.50 400.00,134.00 C411.67,133.50 426.67,133.00 440.00,133.00 C453.33,133.00 473.33,133.83 480.00,134.00" stroke="#e7cb94" stroke-width="1.0"/>
<path d="M351.00,136.80 C359.17,136.58 383.50,135.88 400.00,135.50 C416.50,135.12 430.00,134.50 450.00,134.50 C470.00,134.50 486.90,135.17 520.00,135.50 C553.10,135.83 627.17,136.33 648.60,136.50" stroke="#d6616b" stroke-width="1.0"/>
<path d="M400.00,134.00 C401.78,133.75 408.20,133.33 410.70,132.50 C413.20,131.67 413.43,130.08 415.00,129.00 C416.57,127.92 418.43,126.78 420.10,126.00 C421.77,125.22 423.22,124.88 425.00,124.30 C426.78,123.72 428.85,122.40 430.80,122.50 C432.75,122.60 434.75,123.53 436.70,124.90 C438.65,126.27 440.62,129.27 442.50,130.70 C444.38,132.13 445.92,132.78 448.00,133.50 C450.08,134.22 453.83,134.75 455.00,135.00" stroke="#8ca252" stroke-width="1.0"/>
<path d="M405.00,134.00 C406.33,133.75 410.83,132.92 413.00,132.50 C415.17,132.08 416.43,131.80 418.00,131.50 C419.57,131.20 421.15,131.20 422.40,130.70 C423.65,130.20 424.28,129.87 425.50,128.50 C426.72,127.13 428.23,123.98 429.70,122.50 C431.17,121.02 432.75,119.70 434.30,119.60 C435.85,119.50 437.43,120.83 439.00,121.90 C440.57,122.97 442.13,124.53 443.70,126.00 C445.27,127.47 446.52,129.37 448.40,130.70 C450.28,132.03 452.23,133.20 455.00,134.00 C457.77,134.80 463.33,135.25 465.00,135.50" stroke="#6b6ecf" stroke-width="1.0"/>
<path d="M436.00,135.00 C436.75,134.58 439.42,134.33 440.50,132.50 C441.58,130.67 441.87,128.08 442.50,124.00 C443.13,119.92 443.72,111.55 444.30,108.00 C444.88,104.45 445.42,102.82 446.00,102.70 C446.58,102.58 447.22,104.92 447.80,107.30 C448.38,109.68 448.97,113.88 449.50,117.00 C450.03,120.12 450.52,123.52 451.00,126.00 C451.48,128.48 451.57,130.40 452.40,131.90 C453.23,133.40 455.40,134.48 456.00,135.00" stroke="#cedb9c" stroke-width="1.0"/>
<path d="M433.00,134.50 C434.00,134.07 437.22,133.32 439.00,131.90 C440.78,130.48 441.95,127.47 443.70,126.00 C445.45,124.53 447.75,123.10 449.50,123.10 C451.25,123.10 452.63,124.73 454.20,126.00 C455.77,127.27 457.43,129.45 458.90,130.70 C460.37,131.95 461.15,132.78 463.00,133.50 C464.85,134.22 468.83,134.75 470.00,135.00" stroke="#8c6d31" stroke-width="1.0"/>
<path d="M442.00,134.00 C443.07,133.65 446.17,133.23 448.40,131.90 C450.63,130.57 453.47,127.57 455.40,126.00 C457.33,124.43 458.25,122.78 460.00,122.50 C461.75,122.22 463.95,123.72 465.90,124.30 C467.85,124.88 469.95,125.13 471.70,126.00 C473.45,126.87 474.68,128.42 476.40,129.50 C478.12,130.58 479.73,131.67 482.00,132.50 C484.27,133.33 488.67,134.17 490.00,134.50" stroke="#ad494a" stroke-width="1.0"/>
<path d="M452.00,134.50 C453.33,133.48 457.88,130.58 460.00,128.40 C462.12,126.22 463.13,122.77 464.70,121.40 C466.27,120.03 467.85,120.02 469.40,120.20 C470.95,120.38 472.45,121.13 474.00,122.50 C475.55,123.87 477.33,126.83 478.70,128.40 C480.07,129.97 480.65,130.97 482.20,131.90 C483.75,132.83 487.03,133.65 488.00,134.00" stroke="#e7ba52" stroke-width="1.0"/>
<path d="M453.00,134.50 C454.33,133.25 458.83,129.08 461.00,127.00 C463.17,124.92 464.50,122.92 466.00,122.00 C467.50,121.08 468.50,121.17 470.00,121.50 C471.50,121.83 473.33,122.67 475.00,124.00 C476.67,125.33 478.17,127.92 480.00,129.50 C481.83,131.08 484.00,132.58 486.00,133.50 C488.00,134.42 491.00,134.75 492.00,135.00" stroke="#bd9e39" stroke-width="1.0"/>
<path d="M455.00,134.50 C456.33,133.25 460.83,128.75 463.00,127.00 C465.17,125.25 466.33,124.33 468.00,124.00 C469.67,123.67 471.17,124.00 473.00,125.00 C474.83,126.00 476.83,128.50 479.00,130.00 C481.17,131.50 484.83,133.33 486.00,134.00" stroke="#e7cb94" stroke-width="1.0"/>
<path d="M450.00,135.00 C451.67,134.50 456.77,133.00 460.00,132.00 C463.23,131.00 466.07,129.33 469.40,129.00 C472.73,128.67 475.73,129.33 480.00,130.00 C484.27,130.67 490.00,132.25 495.00,133.00 C500.00,133.75 504.17,134.08 510.00,134.50 C515.83,134.92 526.67,135.33 530.00,135.50" stroke="#7b4173" stroke-width="1.0"/>
<path d="M485.00,134.00 C487.50,133.55 495.55,131.85 500.00,131.30 C504.45,130.75 507.80,130.70 511.70,130.70 C515.60,130.70 519.12,131.33 523.40,131.30 C527.68,131.27 533.90,130.50 537.40,130.50 C540.90,130.50 541.87,130.68 544.40,131.30 C546.93,131.92 549.50,133.48 552.60,134.20 C555.70,134.92 558.43,135.27 563.00,135.60 C567.57,135.93 577.17,136.10 580.00,136.20" stroke="#393b79" stroke-width="1.0"/>
<path d="M490.00,133.50 C493.50,133.25 505.05,132.17 511.00,132.00 C516.95,131.83 521.70,132.58 525.70,132.50 C529.70,132.42 531.78,131.50 535.00,131.50 C538.22,131.50 541.67,131.92 545.00,132.50 C548.33,133.08 550.83,134.42 555.00,135.00 C559.17,135.58 567.50,135.83 570.00,136.00" stroke="#5254a3" stroke-width="1.0"/>
<path d="M495.00,134.50 C496.62,134.17 502.12,133.10 504.70,132.50 C507.28,131.90 508.55,131.00 510.50,130.90 C512.45,130.80 514.65,131.35 516.40,131.90 C518.15,132.45 519.07,133.60 521.00,134.20 C522.93,134.80 526.83,135.28 528.00,135.50" stroke="#8c6d31" stroke-width="1.0"/>
<path d="M575.00,136.50 C577.50,136.38 585.17,136.13 590.00,135.80 C594.83,135.47 600.17,134.77 604.00,134.50 C607.83,134.23 610.00,134.15 613.00,134.20 C616.00,134.25 618.33,134.47 622.00,134.80 C625.67,135.13 630.57,135.92 635.00,136.20 C639.43,136.48 646.33,136.45 648.60,136.50" stroke="#7b4173" stroke-width="1.0"/>
<path d="M351.00,136.80 C355.83,136.58 368.50,135.93 380.00,135.50 C391.50,135.07 406.67,134.45 420.00,134.20 C433.33,133.95 448.33,133.90 460.00,134.00 C471.67,134.10 480.00,134.40 490.00,134.80 C500.00,135.20 511.67,136.03 520.00,136.40 C528.33,136.77 536.67,136.90 540.00,137.00" stroke="#ad494a" stroke-width="1.0"/>
<path d="M351.00,136.60 C356.67,136.17 373.50,134.63 385.00,134.00 C396.50,133.37 409.17,133.05 420.00,132.80 C430.83,132.55 440.00,132.38 450.00,132.50 C460.00,132.62 475.00,133.33 480.00,133.50" stroke="#e7969c" stroke-width="1.0"/>
<path d="M360.00,136.50 C365.00,136.17 380.00,135.05 390.00,134.50 C400.00,133.95 410.00,133.45 420.00,133.20 C430.00,132.95 440.00,132.87 450.00,133.00 C460.00,133.13 475.00,133.83 480.00,134.00" stroke="#e7ba52" stroke-width="1.0"/>
<path d="M351.00,136.90 C355.83,136.55 370.17,135.35 380.00,134.80 C389.83,134.25 400.00,133.87 410.00,133.60 C420.00,133.33 435.00,133.27 440.00,133.20" stroke="#e7cb94" stroke-width="1.0"/>
<path d="M351.00,137.10 C359.17,137.02 383.50,136.75 400.00,136.60 C416.50,136.45 433.33,136.23 450.00,136.20 C466.67,136.17 466.90,136.30 500.00,136.40 C533.10,136.50 623.83,136.73 648.60,136.80" stroke="#7b4173" stroke-width="1.0"/>
<path d="M351.00,137.30 L648.60,137.30" stroke="#a55194" stroke-width="1.0"/>
<path d="M445.00,135.00 L451.90,130.70 L458.90,123.70 L463.50,115.50 L467.00,105.60 L470.00,113.20 L472.90,120.20 L476.40,126.00 L479.90,131.30 L485.00,134.50 L495.00,135.50" stroke="#843c39" stroke-width="1.1"/>
</g>
<clipPath id="cg"><rect x="351.1" y="191.35" width="297.6" height="35.85000000000001"/></clipPath>
<g clip-path="url(#cg)" fill="none" stroke-linejoin="round">
<path d="M359.90,199.10 C362.42,200.75 370.23,205.98 375.00,209.00 C379.77,212.02 384.67,215.12 388.50,217.20 C392.33,219.28 395.75,221.12 398.00,221.50 C400.25,221.88 400.83,221.08 402.00,219.50 C403.17,217.92 404.00,214.92 405.00,212.00 C406.00,209.08 407.08,204.83 408.00,202.00 C408.92,199.17 409.57,196.75 410.50,195.00 C411.43,193.25 412.60,191.58 413.60,191.50 C414.60,191.42 415.52,192.75 416.50,194.50 C417.48,196.25 418.42,198.92 419.50,202.00 C420.58,205.08 421.83,209.75 423.00,213.00 C424.17,216.25 425.17,219.45 426.50,221.50 C427.83,223.55 428.75,224.55 431.00,225.30 C433.25,226.05 438.50,225.88 440.00,226.00" stroke="#b5cf6b" stroke-width="1.0"/>
<path d="M359.90,203.20 C360.75,204.17 363.32,206.70 365.00,209.00 C366.68,211.30 368.60,214.85 370.00,217.00 C371.40,219.15 371.73,220.65 373.40,221.90 C375.07,223.15 377.23,223.90 380.00,224.50 C382.77,225.10 388.33,225.33 390.00,225.50" stroke="#8ca252" stroke-width="1.0"/>
<path d="M359.90,209.60 C362.15,210.08 367.27,211.23 373.40,212.50 C379.53,213.77 388.92,215.93 396.70,217.20 C404.48,218.47 412.88,219.30 420.10,220.10 C427.32,220.90 431.68,221.43 440.00,222.00 C448.32,222.57 460.00,223.08 470.00,223.50 C480.00,223.92 485.00,224.18 500.00,224.50 C515.00,224.82 550.00,225.25 560.00,225.40" stroke="#bd9e39" stroke-width="1.6"/>
<path d="M359.90,211.20 C363.25,211.67 373.32,212.87 380.00,214.00 C386.68,215.13 391.67,216.75 400.00,218.00 C408.33,219.25 418.33,220.58 430.00,221.50 C441.67,222.42 455.00,222.92 470.00,223.50 C485.00,224.08 503.83,224.68 520.00,225.00 C536.17,225.32 559.17,225.33 567.00,225.40" stroke="#e7ba52" stroke-width="1.6"/>
<path d="M359.90,214.30 C360.58,214.68 362.65,215.65 364.00,216.60 C365.35,217.55 366.83,218.93 368.00,220.00 C369.17,221.07 369.00,222.13 371.00,223.00 C373.00,223.87 376.83,224.73 380.00,225.20 C383.17,225.67 388.33,225.70 390.00,225.80" stroke="#7b4173" stroke-width="1.0"/>
<path d="M359.90,215.40 C362.15,215.50 366.72,215.90 373.40,216.00 C380.08,216.10 390.57,215.92 400.00,216.00 C409.43,216.08 423.33,216.25 430.00,216.50 C436.67,216.75 436.67,217.08 440.00,217.50 C443.33,217.92 445.83,218.42 450.00,219.00 C454.17,219.58 460.00,220.33 465.00,221.00 C470.00,221.67 477.50,222.67 480.00,223.00" stroke="#637939" stroke-width="1.0"/>
<path d="M359.90,217.00 C362.42,217.08 369.98,217.17 375.00,217.50 C380.02,217.83 384.17,218.67 390.00,219.00 C395.83,219.33 403.33,219.42 410.00,219.50 C416.67,219.58 426.67,219.50 430.00,219.50" stroke="#5254a3" stroke-width="1.0"/>
<path d="M375.00,219.00 C377.25,218.60 383.90,217.68 388.50,216.60 C393.10,215.52 398.42,213.37 402.60,212.50 C406.78,211.63 409.87,211.40 413.60,211.40 C417.33,211.40 422.27,212.22 425.00,212.50 C427.73,212.78 428.05,212.52 430.00,213.10 C431.95,213.68 434.20,215.02 436.70,216.00 C439.20,216.98 441.95,218.00 445.00,219.00 C448.05,220.00 453.33,221.50 455.00,222.00" stroke="#6b6ecf" stroke-width="1.0"/>
<path d="M359.90,220.00 C363.25,220.33 374.98,221.08 380.00,222.00 C385.02,222.92 387.22,225.13 390.00,225.50 C392.78,225.87 394.70,225.28 396.70,224.20 C398.70,223.12 400.45,220.75 402.00,219.00 C403.55,217.25 404.67,215.53 406.00,213.70 C407.33,211.87 408.73,209.27 410.00,208.00 C411.27,206.73 412.43,206.10 413.60,206.10 C414.77,206.10 415.92,207.12 417.00,208.00 C418.08,208.88 418.93,209.90 420.10,211.40 C421.27,212.90 422.83,215.25 424.00,217.00 C425.17,218.75 425.77,220.57 427.10,221.90 C428.43,223.23 431.18,224.48 432.00,225.00" stroke="#d6616b" stroke-width="1.0"/>
<path d="M398.00,225.00 C399.33,223.50 403.40,218.57 406.00,216.00 C408.60,213.43 411.27,210.10 413.60,209.60 C415.93,209.10 417.77,210.93 420.00,213.00 C422.23,215.07 425.00,219.92 427.00,222.00 C429.00,224.08 431.17,224.92 432.00,225.50" stroke="#8c6d31" stroke-width="1.0"/>
<path d="M359.90,218.40 C363.25,218.67 373.32,219.40 380.00,220.00 C386.68,220.60 393.33,221.50 400.00,222.00 C406.67,222.50 413.88,222.83 420.00,223.00 C426.12,223.17 432.95,224.93 436.70,223.00 C440.45,221.07 440.95,214.32 442.50,211.40 C444.05,208.48 444.83,206.87 446.00,205.50 C447.17,204.13 448.33,203.20 449.50,203.20 C450.67,203.20 452.02,204.53 453.00,205.50 C453.98,206.47 454.40,207.33 455.40,209.00 C456.40,210.67 457.83,213.55 459.00,215.50 C460.17,217.45 461.45,219.73 462.40,220.70 C463.35,221.67 463.60,221.67 464.70,221.30 C465.80,220.93 467.45,219.38 469.00,218.50 C470.55,217.62 471.60,217.10 474.00,216.00 C476.40,214.90 480.67,212.48 483.40,211.90 C486.13,211.32 488.07,211.92 490.40,212.50 C492.73,213.08 494.97,214.32 497.40,215.40 C499.83,216.48 502.57,217.82 505.00,219.00 C507.43,220.18 509.50,221.58 512.00,222.50 C514.50,223.42 515.33,224.00 520.00,224.50 C524.67,225.00 536.67,225.33 540.00,225.50" stroke="#393b79" stroke-width="1.0"/>
<path d="M434.00,225.00 C435.00,224.00 438.17,221.67 440.00,219.00 C441.83,216.33 443.42,211.35 445.00,209.00 C446.58,206.65 448.00,204.90 449.50,204.90 C451.00,204.90 452.58,206.98 454.00,209.00 C455.42,211.02 456.67,214.50 458.00,217.00 C459.33,219.50 460.67,222.58 462.00,224.00 C463.33,225.42 465.33,225.25 466.00,225.50" stroke="#ad494a" stroke-width="1.0"/>
<path d="M436.00,224.50 C437.17,223.25 440.75,219.18 443.00,217.00 C445.25,214.82 447.33,211.40 449.50,211.40 C451.67,211.40 453.92,214.82 456.00,217.00 C458.08,219.18 461.00,223.25 462.00,224.50" stroke="#8ca252" stroke-width="1.0"/>
<path d="M436.00,225.00 C437.17,223.83 440.75,219.98 443.00,218.00 C445.25,216.02 447.33,213.10 449.50,213.10 C451.67,213.10 453.92,216.02 456.00,218.00 C458.08,219.98 461.00,223.83 462.00,225.00" stroke="#d6616b" stroke-width="1.0"/>
<path d="M438.00,225.50 C438.83,224.67 441.08,222.08 443.00,220.50 C444.92,218.92 447.33,216.00 449.50,216.00 C451.67,216.00 454.08,218.92 456.00,220.50 C457.92,222.08 460.17,224.67 461.00,225.50" stroke="#e7969c" stroke-width="1.0"/>
<path d="M470.00,225.50 C471.07,225.08 474.55,224.58 476.40,223.00 C478.25,221.42 479.55,218.03 481.10,216.00 C482.65,213.97 484.15,210.98 485.70,210.80 C487.25,210.62 488.83,212.87 490.40,214.90 C491.97,216.93 493.50,221.23 495.10,223.00 C496.70,224.77 499.18,225.08 500.00,225.50" stroke="#d6616b" stroke-width="1.4"/>
<path d="M472.00,225.50 C473.33,224.42 477.72,220.92 480.00,219.00 C482.28,217.08 483.87,214.00 485.70,214.00 C487.53,214.00 488.95,217.08 491.00,219.00 C493.05,220.92 496.83,224.42 498.00,225.50" stroke="#e7969c" stroke-width="1.0"/>
<path d="M490.00,215.00 C491.67,215.27 497.37,215.75 500.00,216.60 C502.63,217.45 503.80,219.03 505.80,220.10 C507.80,221.17 507.72,222.52 512.00,223.00 C516.28,223.48 526.68,222.90 531.50,223.00 C536.32,223.10 536.15,223.35 540.90,223.60 C545.65,223.85 556.82,224.35 560.00,224.50" stroke="#5254a3" stroke-width="1.0"/>
<path d="M503.00,225.50 C504.05,225.08 507.27,224.48 509.30,223.00 C511.33,221.52 513.05,218.35 515.20,216.60 C517.35,214.85 519.87,212.40 522.20,212.50 C524.53,212.60 527.07,215.45 529.20,217.20 C531.33,218.95 533.05,221.63 535.00,223.00 C536.95,224.37 539.92,225.00 540.90,225.40" stroke="#7b4173" stroke-width="1.3"/>
<path d="M508.00,225.00 C509.17,224.00 512.63,220.60 515.00,219.00 C517.37,217.40 519.87,215.40 522.20,215.40 C524.53,215.40 526.70,217.40 529.00,219.00 C531.30,220.60 534.83,224.00 536.00,225.00" stroke="#d6616b" stroke-width="1.0"/>
<path d="M470.00,219.00 C475.00,219.00 487.22,218.92 500.00,219.00 C512.78,219.08 534.20,219.08 546.70,219.50 C559.20,219.92 564.45,220.83 575.00,221.50 C585.55,222.17 599.30,222.85 610.00,223.50 C620.70,224.15 634.33,225.08 639.20,225.40" stroke="#843c39" stroke-width="1.0"/>
<path d="M540.00,225.50 C541.12,225.08 545.12,224.58 546.70,223.00 C548.28,221.42 548.52,218.33 549.50,216.00 C550.48,213.67 551.68,211.25 552.60,209.00 C553.52,206.75 554.13,204.05 555.00,202.50 C555.87,200.95 556.88,199.78 557.80,199.70 C558.72,199.62 559.63,200.83 560.50,202.00 C561.37,203.17 562.17,204.87 563.00,206.70 C563.83,208.53 564.72,210.87 565.50,213.00 C566.28,215.13 566.95,217.83 567.70,219.50 C568.45,221.17 569.22,222.02 570.00,223.00 C570.78,223.98 571.07,224.90 572.40,225.40 C573.73,225.90 577.07,225.90 578.00,226.00" stroke="#7b4173" stroke-width="1.3"/>
<path d="M545.00,225.50 C546.00,223.92 548.87,218.85 551.00,216.00 C553.13,213.15 555.63,208.40 557.80,208.40 C559.97,208.40 561.97,213.15 564.00,216.00 C566.03,218.85 569.00,223.92 570.00,225.50" stroke="#e7969c" stroke-width="1.0"/>
<path d="M545.00,225.50 C546.00,224.58 548.87,221.68 551.00,220.00 C553.13,218.32 555.63,215.40 557.80,215.40 C559.97,215.40 561.97,218.32 564.00,220.00 C566.03,221.68 569.00,224.58 570.00,225.50" stroke="#ad494a" stroke-width="1.0"/>
<path d="M575.00,225.80 C575.97,225.73 578.85,226.25 580.80,225.40 C582.75,224.55 585.17,222.18 586.70,220.70 C588.23,219.22 588.73,217.57 590.00,216.50 C591.27,215.43 592.97,214.30 594.30,214.30 C595.63,214.30 596.93,215.63 598.00,216.50 C599.07,217.37 599.28,218.02 600.70,219.50 C602.12,220.98 604.62,224.32 606.50,225.40 C608.38,226.48 611.08,225.90 612.00,226.00" stroke="#7b4173" stroke-width="1.2"/>
<path d="M580.00,225.50 C582.33,225.17 589.33,223.50 594.00,223.50 C598.67,223.50 605.67,225.17 608.00,225.50" stroke="#d6616b" stroke-width="1.0"/>
<path d="M359.90,224.50 C369.92,224.55 396.65,224.80 420.00,224.80 C443.35,224.80 476.67,224.47 500.00,224.50 C523.33,224.53 535.23,224.83 560.00,225.00 C584.77,225.17 633.83,225.42 648.60,225.50" stroke="#e7969c" stroke-width="1.0"/>
<path d="M359.90,222.00 C363.25,222.25 373.32,223.08 380.00,223.50 C386.68,223.92 393.33,224.28 400.00,224.50 C406.67,224.72 413.33,224.72 420.00,224.80 C426.67,224.88 436.67,224.97 440.00,225.00" stroke="#843c39" stroke-width="1.0"/>
<path d="M359.90,212.00 C362.42,212.67 369.15,214.50 375.00,216.00 C380.85,217.50 389.17,219.67 395.00,221.00 C400.83,222.33 407.50,223.50 410.00,224.00" stroke="#e7969c" stroke-width="1.0"/>
<path d="M359.90,216.00 C363.25,216.50 373.32,218.17 380.00,219.00 C386.68,219.83 391.67,220.33 400.00,221.00 C408.33,221.67 418.33,222.50 430.00,223.00 C441.67,223.50 463.33,223.83 470.00,224.00" stroke="#e7cb94" stroke-width="1.0"/>
<path d="M359.90,214.00 C363.25,214.50 373.32,216.00 380.00,217.00 C386.68,218.00 391.67,219.17 400.00,220.00 C408.33,220.83 420.00,221.50 430.00,222.00 C440.00,222.50 455.00,222.83 460.00,223.00" stroke="#9c9ede" stroke-width="1.0"/>
<path d="M436.00,225.00 C437.17,223.83 440.75,220.08 443.00,218.00 C445.25,215.92 447.33,212.50 449.50,212.50 C451.67,212.50 453.92,215.92 456.00,218.00 C458.08,220.08 461.00,223.83 462.00,225.00" stroke="#637939" stroke-width="1.0"/>
<path d="M470.00,224.50 C478.33,224.25 505.00,223.17 520.00,223.00 C535.00,222.83 546.67,223.25 560.00,223.50 C573.33,223.75 593.33,224.33 600.00,224.50" stroke="#bd9e39" stroke-width="1.0"/>
<path d="M359.90,226.20 L648.60,226.20" stroke="#a55194" stroke-width="1.0"/>
</g>
<clipPath id="ch"><rect x="351.1" y="280.35" width="297.6" height="35.54999999999997"/></clipPath>
<g clip-path="url(#ch)" fill="none" stroke-linejoin="round">
<path d="M351.50,314.40 C352.92,314.30 357.52,314.00 360.00,313.80 C362.48,313.60 364.73,314.17 366.40,313.20 C368.07,312.23 368.83,309.92 370.00,308.00 C371.17,306.08 371.67,304.30 373.40,301.70 C375.13,299.10 378.07,294.73 380.40,292.40 C382.73,290.07 385.27,288.10 387.40,287.70 C389.53,287.30 391.27,288.55 393.20,290.00 C395.13,291.45 397.25,294.07 399.00,296.40 C400.75,298.73 402.13,301.57 403.70,304.00 C405.27,306.43 406.52,309.50 408.40,311.00 C410.28,312.50 412.73,312.75 415.00,313.00 C417.27,313.25 419.55,312.83 422.00,312.50 C424.45,312.17 427.25,311.92 429.70,311.00 C432.15,310.08 434.37,308.35 436.70,307.00 C439.03,305.65 441.37,303.98 443.70,302.90 C446.03,301.82 448.37,300.50 450.70,300.50 C453.03,300.50 455.37,301.73 457.70,302.90 C460.03,304.07 462.32,306.15 464.70,307.50 C467.08,308.85 469.45,310.08 472.00,311.00 C474.55,311.92 475.33,312.50 480.00,313.00 C484.67,313.50 496.67,313.83 500.00,314.00" stroke="#5254a3" stroke-width="1.0"/>
<path d="M351.50,314.40 C353.98,314.17 361.78,314.53 366.40,313.00 C371.02,311.47 375.12,307.18 379.20,305.20 C383.28,303.22 387.60,301.40 390.90,301.10 C394.20,300.80 396.28,301.93 399.00,303.40 C401.72,304.87 404.53,308.30 407.20,309.90 C409.87,311.50 412.03,312.32 415.00,313.00 C417.97,313.68 423.33,313.83 425.00,314.00" stroke="#393b79" stroke-width="1.0"/>
<path d="M351.50,314.40 C354.25,314.08 362.02,313.93 368.00,312.50 C373.98,311.07 382.62,306.63 387.40,305.80 C392.18,304.97 393.93,306.72 396.70,307.50 C399.47,308.28 401.45,309.88 404.00,310.50 C406.55,311.12 408.93,311.50 412.00,311.20 C415.07,310.90 419.40,309.40 422.40,308.70 C425.40,308.00 427.07,307.37 430.00,307.00 C432.93,306.63 435.83,306.42 440.00,306.50 C444.17,306.58 450.00,307.08 455.00,307.50 C460.00,307.92 464.17,308.42 470.00,309.00 C475.83,309.58 486.67,310.67 490.00,311.00" stroke="#7b4173" stroke-width="1.0"/>
<path d="M370.00,314.00 C371.53,313.90 375.72,314.28 379.20,313.40 C382.68,312.52 387.60,310.65 390.90,308.70 C394.20,306.75 396.08,304.23 399.00,301.70 C401.92,299.17 405.47,296.03 408.40,293.50 C411.33,290.97 414.47,286.88 416.60,286.50 C418.73,286.12 419.65,288.87 421.20,291.20 C422.75,293.53 424.30,298.37 425.90,300.50 C427.50,302.63 429.00,302.73 430.80,304.00 C432.60,305.27 434.33,306.85 436.70,308.10 C439.07,309.35 441.95,310.60 445.00,311.50 C448.05,312.40 453.33,313.17 455.00,313.50" stroke="#bd9e39" stroke-width="1.0"/>
<path d="M398.00,313.50 C399.33,313.08 403.10,312.00 406.00,311.00 C408.90,310.00 412.28,307.68 415.40,307.50 C418.52,307.32 421.93,309.07 424.70,309.90 C427.47,310.73 429.45,311.90 432.00,312.50 C434.55,313.10 438.67,313.33 440.00,313.50" stroke="#e7ba52" stroke-width="1.0"/>
<path d="M375.00,314.00 C377.45,313.22 385.53,309.63 389.70,309.30 C393.87,308.97 396.62,311.30 400.00,312.00 C403.38,312.70 408.33,313.25 410.00,313.50" stroke="#e7969c" stroke-width="1.0"/>
<path d="M378.00,314.00 C380.33,313.50 387.50,311.20 392.00,311.00 C396.50,310.80 400.33,312.33 405.00,312.80 C409.67,313.27 417.50,313.63 420.00,313.80" stroke="#d6616b" stroke-width="1.0"/>
<path d="M500.00,311.00 C501.95,310.23 507.80,308.05 511.70,306.40 C515.60,304.75 520.10,302.27 523.40,301.10 C526.70,299.93 529.17,299.40 531.50,299.40 C533.83,299.40 535.45,300.13 537.40,301.10 C539.35,302.07 541.27,303.73 543.20,305.20 C545.13,306.67 546.87,308.68 549.00,309.90 C551.13,311.12 553.33,311.90 556.00,312.50 C558.67,313.10 563.50,313.33 565.00,313.50" stroke="#e7ba52" stroke-width="1.0"/>
<path d="M465.00,312.50 C466.90,311.87 473.72,310.50 476.40,308.70 C479.08,306.90 479.35,303.55 481.10,301.70 C482.85,299.85 484.57,298.67 486.90,297.60 C489.23,296.53 492.57,295.58 495.10,295.30 C497.63,295.02 500.12,295.13 502.10,295.90 C504.08,296.67 505.40,298.83 507.00,299.90 C508.60,300.97 509.95,301.90 511.70,302.30 C513.45,302.70 515.55,302.02 517.50,302.30 C519.45,302.58 521.45,303.13 523.40,304.00 C525.35,304.87 527.27,306.33 529.20,307.50 C531.13,308.67 532.37,310.08 535.00,311.00 C537.63,311.92 543.33,312.67 545.00,313.00" stroke="#ad494a" stroke-width="1.0"/>
<path d="M470.00,312.00 C472.62,310.87 481.13,307.02 485.70,305.20 C490.27,303.38 494.18,301.78 497.40,301.10 C500.62,300.42 502.62,300.22 505.00,301.10 C507.38,301.98 508.63,304.93 511.70,306.40 C514.77,307.87 519.52,308.97 523.40,309.90 C527.28,310.83 531.40,311.40 535.00,312.00 C538.60,312.60 543.33,313.25 545.00,313.50" stroke="#d6616b" stroke-width="1.0"/>
<path d="M515.00,311.50 C517.37,311.03 525.47,309.65 529.20,308.70 C532.93,307.75 534.48,306.38 537.40,305.80 C540.32,305.22 543.60,305.10 546.70,305.20 C549.80,305.30 552.88,305.82 556.00,306.40 C559.12,306.98 562.28,307.93 565.40,308.70 C568.52,309.47 571.43,310.37 574.70,311.00 C577.97,311.63 580.78,312.08 585.00,312.50 C589.22,312.92 597.50,313.33 600.00,313.50" stroke="#8c6d31" stroke-width="1.0"/>
<path d="M480.00,311.00 C485.00,310.83 500.00,310.17 510.00,310.00 C520.00,309.83 529.17,310.12 540.00,310.00 C550.83,309.88 563.33,309.22 575.00,309.30 C586.67,309.38 597.73,310.12 610.00,310.50 C622.27,310.88 642.17,311.42 648.60,311.60" stroke="#8ca252" stroke-width="1.0"/>
<path d="M460.00,312.00 C465.00,311.75 480.00,310.67 490.00,310.50 C500.00,310.33 508.33,310.83 520.00,311.00 C531.67,311.17 553.33,311.42 560.00,311.50" stroke="#b5cf6b" stroke-width="1.0"/>
<path d="M555.00,312.00 C556.67,311.75 562.10,311.05 565.00,310.50 C567.90,309.95 569.90,309.38 572.40,308.70 C574.90,308.02 577.62,307.08 580.00,306.40 C582.38,305.72 583.63,305.03 586.70,304.60 C589.77,304.17 594.52,303.60 598.40,303.80 C602.28,304.00 606.12,304.98 610.00,305.80 C613.88,306.62 617.80,307.83 621.70,308.70 C625.60,309.57 628.92,310.32 633.40,311.00 C637.88,311.68 646.07,312.50 648.60,312.80" stroke="#6b6ecf" stroke-width="1.0"/>
<path d="M430.00,312.00 C436.67,311.67 458.33,310.50 470.00,310.00 C481.67,309.50 490.00,308.83 500.00,309.00 C510.00,309.17 520.00,310.42 530.00,311.00 C540.00,311.58 555.00,312.25 560.00,312.50" stroke="#e7cb94" stroke-width="1.0"/>
<path d="M351.50,314.00 C367.92,313.83 421.92,313.25 450.00,313.00 C478.08,312.75 495.00,312.47 520.00,312.50 C545.00,312.53 578.57,313.03 600.00,313.20 C621.43,313.37 640.50,313.45 648.60,313.50" stroke="#e7969c" stroke-width="1.0"/>
<path d="M351.50,314.50 L648.60,314.30" stroke="#d6616b" stroke-width="1.0"/>
<path d="M351.50,315.00 L648.60,315.00" stroke="#a55194" stroke-width="1.0"/>
<path d="M490.00,313.50 L503.00,312.00 L508.20,308.70 L512.80,298.20 L517.50,288.80 L521.60,280.70 L525.70,282.40 L530.40,291.20 L535.00,297.00 L539.70,302.90 L544.40,307.50 L549.00,310.50 L556.00,312.20 L565.00,313.50 L580.00,314.00" stroke="#843c39" stroke-width="1.1"/>
</g>
<line x1="351.00" y1="13.30" x2="351.00" y2="48.90" stroke="#333" stroke-width="1.3"/>
<line x1="351.00" y1="14.40" x2="354.20" y2="14.40" stroke="#333" stroke-width="0.9"/>
<text x="346.90" y="18.30" font-size="11" text-anchor="end" fill="#333333">4</text>
<line x1="351.00" y1="31.35" x2="354.20" y2="31.35" stroke="#333" stroke-width="0.9"/>
<text x="346.90" y="35.25" font-size="11" text-anchor="end" fill="#333333">2</text>
<line x1="351.00" y1="48.30" x2="354.20" y2="48.30" stroke="#333" stroke-width="0.9"/>
<text x="346.90" y="52.20" font-size="11" text-anchor="end" fill="#333333">0</text>
<line x1="364.40" y1="48.30" x2="364.40" y2="45.70" stroke="#333" stroke-width="0.9"/>
<text x="364.40" y="61.80" font-size="11" text-anchor="middle" fill="#333333" textLength="6.40" lengthAdjust="spacingAndGlyphs">3</text>
<line x1="418.95" y1="48.30" x2="418.95" y2="45.70" stroke="#333" stroke-width="0.9"/>
<text x="418.95" y="61.80" font-size="11" text-anchor="middle" fill="#333333" textLength="6.40" lengthAdjust="spacingAndGlyphs">4</text>
<line x1="473.50" y1="48.30" x2="473.50" y2="45.70" stroke="#333" stroke-width="0.9"/>
<text x="473.50" y="61.80" font-size="11" text-anchor="middle" fill="#333333" textLength="6.40" lengthAdjust="spacingAndGlyphs">5</text>
<line x1="528.05" y1="48.30" x2="528.05" y2="45.70" stroke="#333" stroke-width="0.9"/>
<text x="528.05" y="61.80" font-size="11" text-anchor="middle" fill="#333333" textLength="6.40" lengthAdjust="spacingAndGlyphs">6</text>
<line x1="582.60" y1="48.30" x2="582.60" y2="45.70" stroke="#333" stroke-width="0.9"/>
<text x="582.60" y="61.80" font-size="11" text-anchor="middle" fill="#333333" textLength="6.40" lengthAdjust="spacingAndGlyphs">7</text>
<line x1="637.15" y1="48.30" x2="637.15" y2="45.70" stroke="#333" stroke-width="0.9"/>
<text x="637.15" y="61.80" font-size="11" text-anchor="middle" fill="#333333" textLength="6.40" lengthAdjust="spacingAndGlyphs">8</text>
<text x="353.70" y="26.10" font-size="11.6" text-anchor="start" fill="#000" font-weight="bold" textLength="12.40" lengthAdjust="spacingAndGlyphs">e)</text>
<text x="320.70" y="31.20" font-size="12" text-anchor="middle" fill="#333333" textLength="46.00" lengthAdjust="spacingAndGlyphs" transform="rotate(-90 320.70 31.20)">Density</text>
<text x="466.60" y="76.20" font-size="12.4" text-anchor="start" fill="#333333" textLength="8.40" lengthAdjust="spacingAndGlyphs">V</text>
<text x="474.90" y="82.00" font-size="11" text-anchor="start" fill="#333333" textLength="6.60" lengthAdjust="spacingAndGlyphs">T</text>
<text x="485.00" y="76.20" font-size="12.4" text-anchor="start" fill="#333333" textLength="47.00" lengthAdjust="spacingAndGlyphs">(mL/kg)</text>
<line x1="351.00" y1="102.35" x2="351.00" y2="137.60" stroke="#333" stroke-width="1.3"/>
<line x1="351.00" y1="111.50" x2="354.20" y2="111.50" stroke="#333" stroke-width="0.9"/>
<text x="346.90" y="115.40" font-size="11" text-anchor="end" fill="#333333" textLength="16.60" lengthAdjust="spacingAndGlyphs">0.5</text>
<line x1="351.00" y1="137.00" x2="354.20" y2="137.00" stroke="#333" stroke-width="0.9"/>
<text x="346.90" y="140.90" font-size="11" text-anchor="end" fill="#333333">0</text>
<line x1="386.80" y1="137.00" x2="386.80" y2="134.40" stroke="#333" stroke-width="0.9"/>
<text x="386.80" y="150.90" font-size="11" text-anchor="middle" fill="#333333" textLength="6.40" lengthAdjust="spacingAndGlyphs">5</text>
<line x1="439.10" y1="137.00" x2="439.10" y2="134.40" stroke="#333" stroke-width="0.9"/>
<text x="439.10" y="150.90" font-size="11" text-anchor="middle" fill="#333333" textLength="13.20" lengthAdjust="spacingAndGlyphs">10</text>
<line x1="491.40" y1="137.00" x2="491.40" y2="134.40" stroke="#333" stroke-width="0.9"/>
<text x="491.40" y="150.90" font-size="11" text-anchor="middle" fill="#333333" textLength="13.20" lengthAdjust="spacingAndGlyphs">15</text>
<line x1="543.70" y1="137.00" x2="543.70" y2="134.40" stroke="#333" stroke-width="0.9"/>
<text x="543.70" y="150.90" font-size="11" text-anchor="middle" fill="#333333" textLength="13.20" lengthAdjust="spacingAndGlyphs">20</text>
<line x1="596.00" y1="137.00" x2="596.00" y2="134.40" stroke="#333" stroke-width="0.9"/>
<text x="596.00" y="150.90" font-size="11" text-anchor="middle" fill="#333333" textLength="13.20" lengthAdjust="spacingAndGlyphs">25</text>
<line x1="648.30" y1="137.00" x2="648.30" y2="134.40" stroke="#333" stroke-width="0.9"/>
<text x="648.30" y="150.90" font-size="11" text-anchor="middle" fill="#333333" textLength="13.20" lengthAdjust="spacingAndGlyphs">30</text>
<text x="353.70" y="115.15" font-size="11.6" text-anchor="start" fill="#000" font-weight="bold" textLength="12.40" lengthAdjust="spacingAndGlyphs">f)</text>
<text x="324.90" y="120.08" font-size="12" text-anchor="middle" fill="#333333" textLength="46.00" lengthAdjust="spacingAndGlyphs" transform="rotate(-90 324.90 120.08)">Density</text>
<text x="436.50" y="165.30" font-size="12.4" text-anchor="start" fill="#333333" textLength="6.60" lengthAdjust="spacingAndGlyphs">p</text>
<text x="443.40" y="171.60" font-size="10.0" text-anchor="start" fill="#333333" textLength="24.20" lengthAdjust="spacingAndGlyphs">peak</text>
<text x="467.60" y="165.30" font-size="12.4" text-anchor="start" fill="#333333" textLength="73.20" lengthAdjust="spacingAndGlyphs">-PEEP (cm H</text>
<text x="541.60" y="171.30" font-size="10.5" text-anchor="start" fill="#333333" textLength="6.00" lengthAdjust="spacingAndGlyphs">2</text>
<text x="548.80" y="165.30" font-size="12.4" text-anchor="start" fill="#333333" textLength="14.00" lengthAdjust="spacingAndGlyphs">O)</text>
<line x1="350.40" y1="226.00" x2="359.90" y2="226.00" stroke="#222" stroke-width="1.2"/>
<line x1="351.00" y1="191.35" x2="351.00" y2="226.60" stroke="#333" stroke-width="1.3"/>
<line x1="351.00" y1="197.65" x2="354.20" y2="197.65" stroke="#333" stroke-width="0.9"/>
<text x="346.90" y="201.55" font-size="11" text-anchor="end" fill="#333333" textLength="16.60" lengthAdjust="spacingAndGlyphs">0.5</text>
<line x1="351.00" y1="226.00" x2="354.20" y2="226.00" stroke="#333" stroke-width="0.9"/>
<text x="346.90" y="229.90" font-size="11" text-anchor="end" fill="#333333">0</text>
<line x1="359.90" y1="226.00" x2="359.90" y2="223.40" stroke="#333" stroke-width="0.9"/>
<text x="359.90" y="239.50" font-size="11" text-anchor="middle" fill="#333333" textLength="6.40" lengthAdjust="spacingAndGlyphs">5</text>
<line x1="450.10" y1="226.00" x2="450.10" y2="223.40" stroke="#333" stroke-width="0.9"/>
<text x="450.10" y="239.50" font-size="11" text-anchor="middle" fill="#333333" textLength="13.20" lengthAdjust="spacingAndGlyphs">10</text>
<line x1="540.30" y1="226.00" x2="540.30" y2="223.40" stroke="#333" stroke-width="0.9"/>
<text x="540.30" y="239.50" font-size="11" text-anchor="middle" fill="#333333" textLength="13.20" lengthAdjust="spacingAndGlyphs">15</text>
<line x1="630.50" y1="226.00" x2="630.50" y2="223.40" stroke="#333" stroke-width="0.9"/>
<text x="630.50" y="239.50" font-size="11" text-anchor="middle" fill="#333333" textLength="13.20" lengthAdjust="spacingAndGlyphs">20</text>
<text x="353.70" y="204.15" font-size="11.6" text-anchor="start" fill="#000" font-weight="bold" textLength="12.40" lengthAdjust="spacingAndGlyphs">g)</text>
<text x="324.90" y="209.08" font-size="12" text-anchor="middle" fill="#333333" textLength="46.00" lengthAdjust="spacingAndGlyphs" transform="rotate(-90 324.90 209.08)">Density</text>
<text x="454.30" y="254.50" font-size="12.4" text-anchor="start" fill="#333333" textLength="69.80" lengthAdjust="spacingAndGlyphs">PEEP (cm H</text>
<text x="524.80" y="260.60" font-size="10.5" text-anchor="start" fill="#333333" textLength="5.60" lengthAdjust="spacingAndGlyphs">2</text>
<text x="530.60" y="254.50" font-size="12.4" text-anchor="start" fill="#333333" textLength="14.00" lengthAdjust="spacingAndGlyphs">O)</text>
<line x1="351.00" y1="280.35" x2="351.00" y2="315.30" stroke="#333" stroke-width="1.3"/>
<line x1="351.00" y1="287.50" x2="354.20" y2="287.50" stroke="#333" stroke-width="0.9"/>
<text x="346.90" y="291.40" font-size="11" text-anchor="end" fill="#333333" textLength="12.60" lengthAdjust="spacingAndGlyphs">10</text>
<line x1="351.00" y1="301.20" x2="354.20" y2="301.20" stroke="#333" stroke-width="0.9"/>
<text x="346.90" y="305.10" font-size="11" text-anchor="end" fill="#333333">5</text>
<line x1="351.00" y1="314.70" x2="354.20" y2="314.70" stroke="#333" stroke-width="0.9"/>
<text x="346.90" y="318.60" font-size="11" text-anchor="end" fill="#333333">0</text>
<line x1="379.30" y1="314.70" x2="379.30" y2="312.10" stroke="#333" stroke-width="0.9"/>
<text x="379.30" y="329.20" font-size="11" text-anchor="middle" fill="#333333" textLength="16.90" lengthAdjust="spacingAndGlyphs">0.2</text>
<line x1="417.72" y1="314.70" x2="417.72" y2="312.10" stroke="#333" stroke-width="0.9"/>
<text x="417.72" y="329.20" font-size="11" text-anchor="middle" fill="#333333" textLength="16.90" lengthAdjust="spacingAndGlyphs">0.3</text>
<line x1="456.14" y1="314.70" x2="456.14" y2="312.10" stroke="#333" stroke-width="0.9"/>
<text x="456.14" y="329.20" font-size="11" text-anchor="middle" fill="#333333" textLength="16.90" lengthAdjust="spacingAndGlyphs">0.4</text>
<line x1="494.56" y1="314.70" x2="494.56" y2="312.10" stroke="#333" stroke-width="0.9"/>
<text x="494.56" y="329.20" font-size="11" text-anchor="middle" fill="#333333" textLength="16.90" lengthAdjust="spacingAndGlyphs">0.5</text>
<line x1="532.98" y1="314.70" x2="532.98" y2="312.10" stroke="#333" stroke-width="0.9"/>
<text x="532.98" y="329.20" font-size="11" text-anchor="middle" fill="#333333" textLength="16.90" lengthAdjust="spacingAndGlyphs">0.6</text>
<line x1="571.40" y1="314.70" x2="571.40" y2="312.10" stroke="#333" stroke-width="0.9"/>
<text x="571.40" y="329.20" font-size="11" text-anchor="middle" fill="#333333" textLength="16.90" lengthAdjust="spacingAndGlyphs">0.7</text>
<line x1="609.82" y1="314.70" x2="609.82" y2="312.10" stroke="#333" stroke-width="0.9"/>
<text x="609.82" y="329.20" font-size="11" text-anchor="middle" fill="#333333" textLength="16.90" lengthAdjust="spacingAndGlyphs">0.8</text>
<line x1="648.24" y1="314.70" x2="648.24" y2="312.10" stroke="#333" stroke-width="0.9"/>
<text x="648.24" y="329.20" font-size="11" text-anchor="middle" fill="#333333" textLength="16.90" lengthAdjust="spacingAndGlyphs">0.9</text>
<text x="353.70" y="293.15" font-size="11.6" text-anchor="start" fill="#000" font-weight="bold" textLength="12.40" lengthAdjust="spacingAndGlyphs">h)</text>
<text x="328.50" y="297.92" font-size="12" text-anchor="middle" fill="#333333" textLength="46.00" lengthAdjust="spacingAndGlyphs" transform="rotate(-90 328.50 297.92)">Density</text>
<text x="418.80" y="343.80" font-size="12.4" text-anchor="start" fill="#333333" textLength="141.00" lengthAdjust="spacingAndGlyphs">Elastance (mL/kg/cm H</text>
<text x="560.60" y="349.40" font-size="10.5" text-anchor="start" fill="#333333" textLength="5.60" lengthAdjust="spacingAndGlyphs">2</text>
<text x="566.60" y="343.80" font-size="12.4" text-anchor="start" fill="#333333" textLength="14.00" lengthAdjust="spacingAndGlyphs">O)</text>
<rect x="662.1" y="13.30" width="7.60" height="19.15" fill="#e7969c"/>
<rect x="662.1" y="32.15" width="7.60" height="19.15" fill="#d6616b"/>
<rect x="662.1" y="51.00" width="7.60" height="19.15" fill="#ad494a"/>
<rect x="662.1" y="69.85" width="7.60" height="19.15" fill="#843c39"/>
<rect x="662.1" y="88.70" width="7.60" height="19.15" fill="#e7cb94"/>
<rect x="662.1" y="107.55" width="7.60" height="19.15" fill="#e7ba52"/>
<rect x="662.1" y="126.40" width="7.60" height="19.15" fill="#bd9e39"/>
<rect x="662.1" y="145.25" width="7.60" height="19.15" fill="#8c6d31"/>
<rect x="662.1" y="164.10" width="7.60" height="19.15" fill="#cedb9c"/>
<rect x="662.1" y="182.95" width="7.60" height="19.15" fill="#b5cf6b"/>
<rect x="662.1" y="201.80" width="7.60" height="19.15" fill="#8ca252"/>
<rect x="662.1" y="220.65" width="7.60" height="19.15" fill="#637939"/>
<rect x="662.1" y="239.50" width="7.60" height="19.15" fill="#9c9ede"/>
<rect x="662.1" y="258.35" width="7.60" height="19.15" fill="#6b6ecf"/>
<rect x="662.1" y="277.20" width="7.60" height="19.15" fill="#5254a3"/>
<rect x="662.1" y="296.05" width="7.60" height="19.15" fill="#393b79"/>
<line x1="667.20" y1="22.73" x2="669.70" y2="22.73" stroke="#333" stroke-width="0.7"/>
<text x="672.80" y="26.62" font-size="11" text-anchor="start" fill="#333333">16</text>
<line x1="667.20" y1="41.58" x2="669.70" y2="41.58" stroke="#333" stroke-width="0.7"/>
<text x="672.80" y="45.48" font-size="11" text-anchor="start" fill="#333333">15</text>
<line x1="667.20" y1="60.42" x2="669.70" y2="60.42" stroke="#333" stroke-width="0.7"/>
<text x="672.80" y="64.33" font-size="11" text-anchor="start" fill="#333333">14</text>
<line x1="667.20" y1="79.27" x2="669.70" y2="79.27" stroke="#333" stroke-width="0.7"/>
<text x="672.80" y="83.17" font-size="11" text-anchor="start" fill="#333333">13</text>
<line x1="667.20" y1="98.12" x2="669.70" y2="98.12" stroke="#333" stroke-width="0.7"/>
<text x="672.80" y="102.02" font-size="11" text-anchor="start" fill="#333333">12</text>
<line x1="667.20" y1="116.97" x2="669.70" y2="116.97" stroke="#333" stroke-width="0.7"/>
<text x="672.80" y="120.87" font-size="11" text-anchor="start" fill="#333333">11</text>
<line x1="667.20" y1="135.82" x2="669.70" y2="135.82" stroke="#333" stroke-width="0.7"/>
<text x="672.80" y="139.72" font-size="11" text-anchor="start" fill="#333333">10</text>
<line x1="667.20" y1="154.67" x2="669.70" y2="154.67" stroke="#333" stroke-width="0.7"/>
<text x="672.80" y="158.57" font-size="11" text-anchor="start" fill="#333333">9</text>
<line x1="667.20" y1="173.53" x2="669.70" y2="173.53" stroke="#333" stroke-width="0.7"/>
<text x="672.80" y="177.43" font-size="11" text-anchor="start" fill="#333333">8</text>
<line x1="667.20" y1="192.38" x2="669.70" y2="192.38" stroke="#333" stroke-width="0.7"/>
<text x="672.80" y="196.28" font-size="11" text-anchor="start" fill="#333333">7</text>
<line x1="667.20" y1="211.22" x2="669.70" y2="211.22" stroke="#333" stroke-width="0.7"/>
<text x="672.80" y="215.12" font-size="11" text-anchor="start" fill="#333333">6</text>
<line x1="667.20" y1="230.07" x2="669.70" y2="230.07" stroke="#333" stroke-width="0.7"/>
<text x="672.80" y="233.97" font-size="11" text-anchor="start" fill="#333333">5</text>
<line x1="667.20" y1="248.92" x2="669.70" y2="248.92" stroke="#333" stroke-width="0.7"/>
<text x="672.80" y="252.82" font-size="11" text-anchor="start" fill="#333333">4</text>
<line x1="667.20" y1="267.77" x2="669.70" y2="267.77" stroke="#333" stroke-width="0.7"/>
<text x="672.80" y="271.67" font-size="11" text-anchor="start" fill="#333333">3</text>
<line x1="667.20" y1="286.62" x2="669.70" y2="286.62" stroke="#333" stroke-width="0.7"/>
<text x="672.80" y="290.52" font-size="11" text-anchor="start" fill="#333333">2</text>
<line x1="667.20" y1="305.47" x2="669.70" y2="305.47" stroke="#333" stroke-width="0.7"/>
<text x="672.80" y="309.37" font-size="11" text-anchor="start" fill="#333333">1</text>
<rect x="662.1" y="13.3" width="7.60" height="301.60" fill="none" stroke="#555" stroke-width="0.6"/>
<text x="652.40" y="7.80" font-size="10.6" text-anchor="start" fill="#333333" textLength="26.60" lengthAdjust="spacingAndGlyphs">Label</text>
</svg>
</body></html>
